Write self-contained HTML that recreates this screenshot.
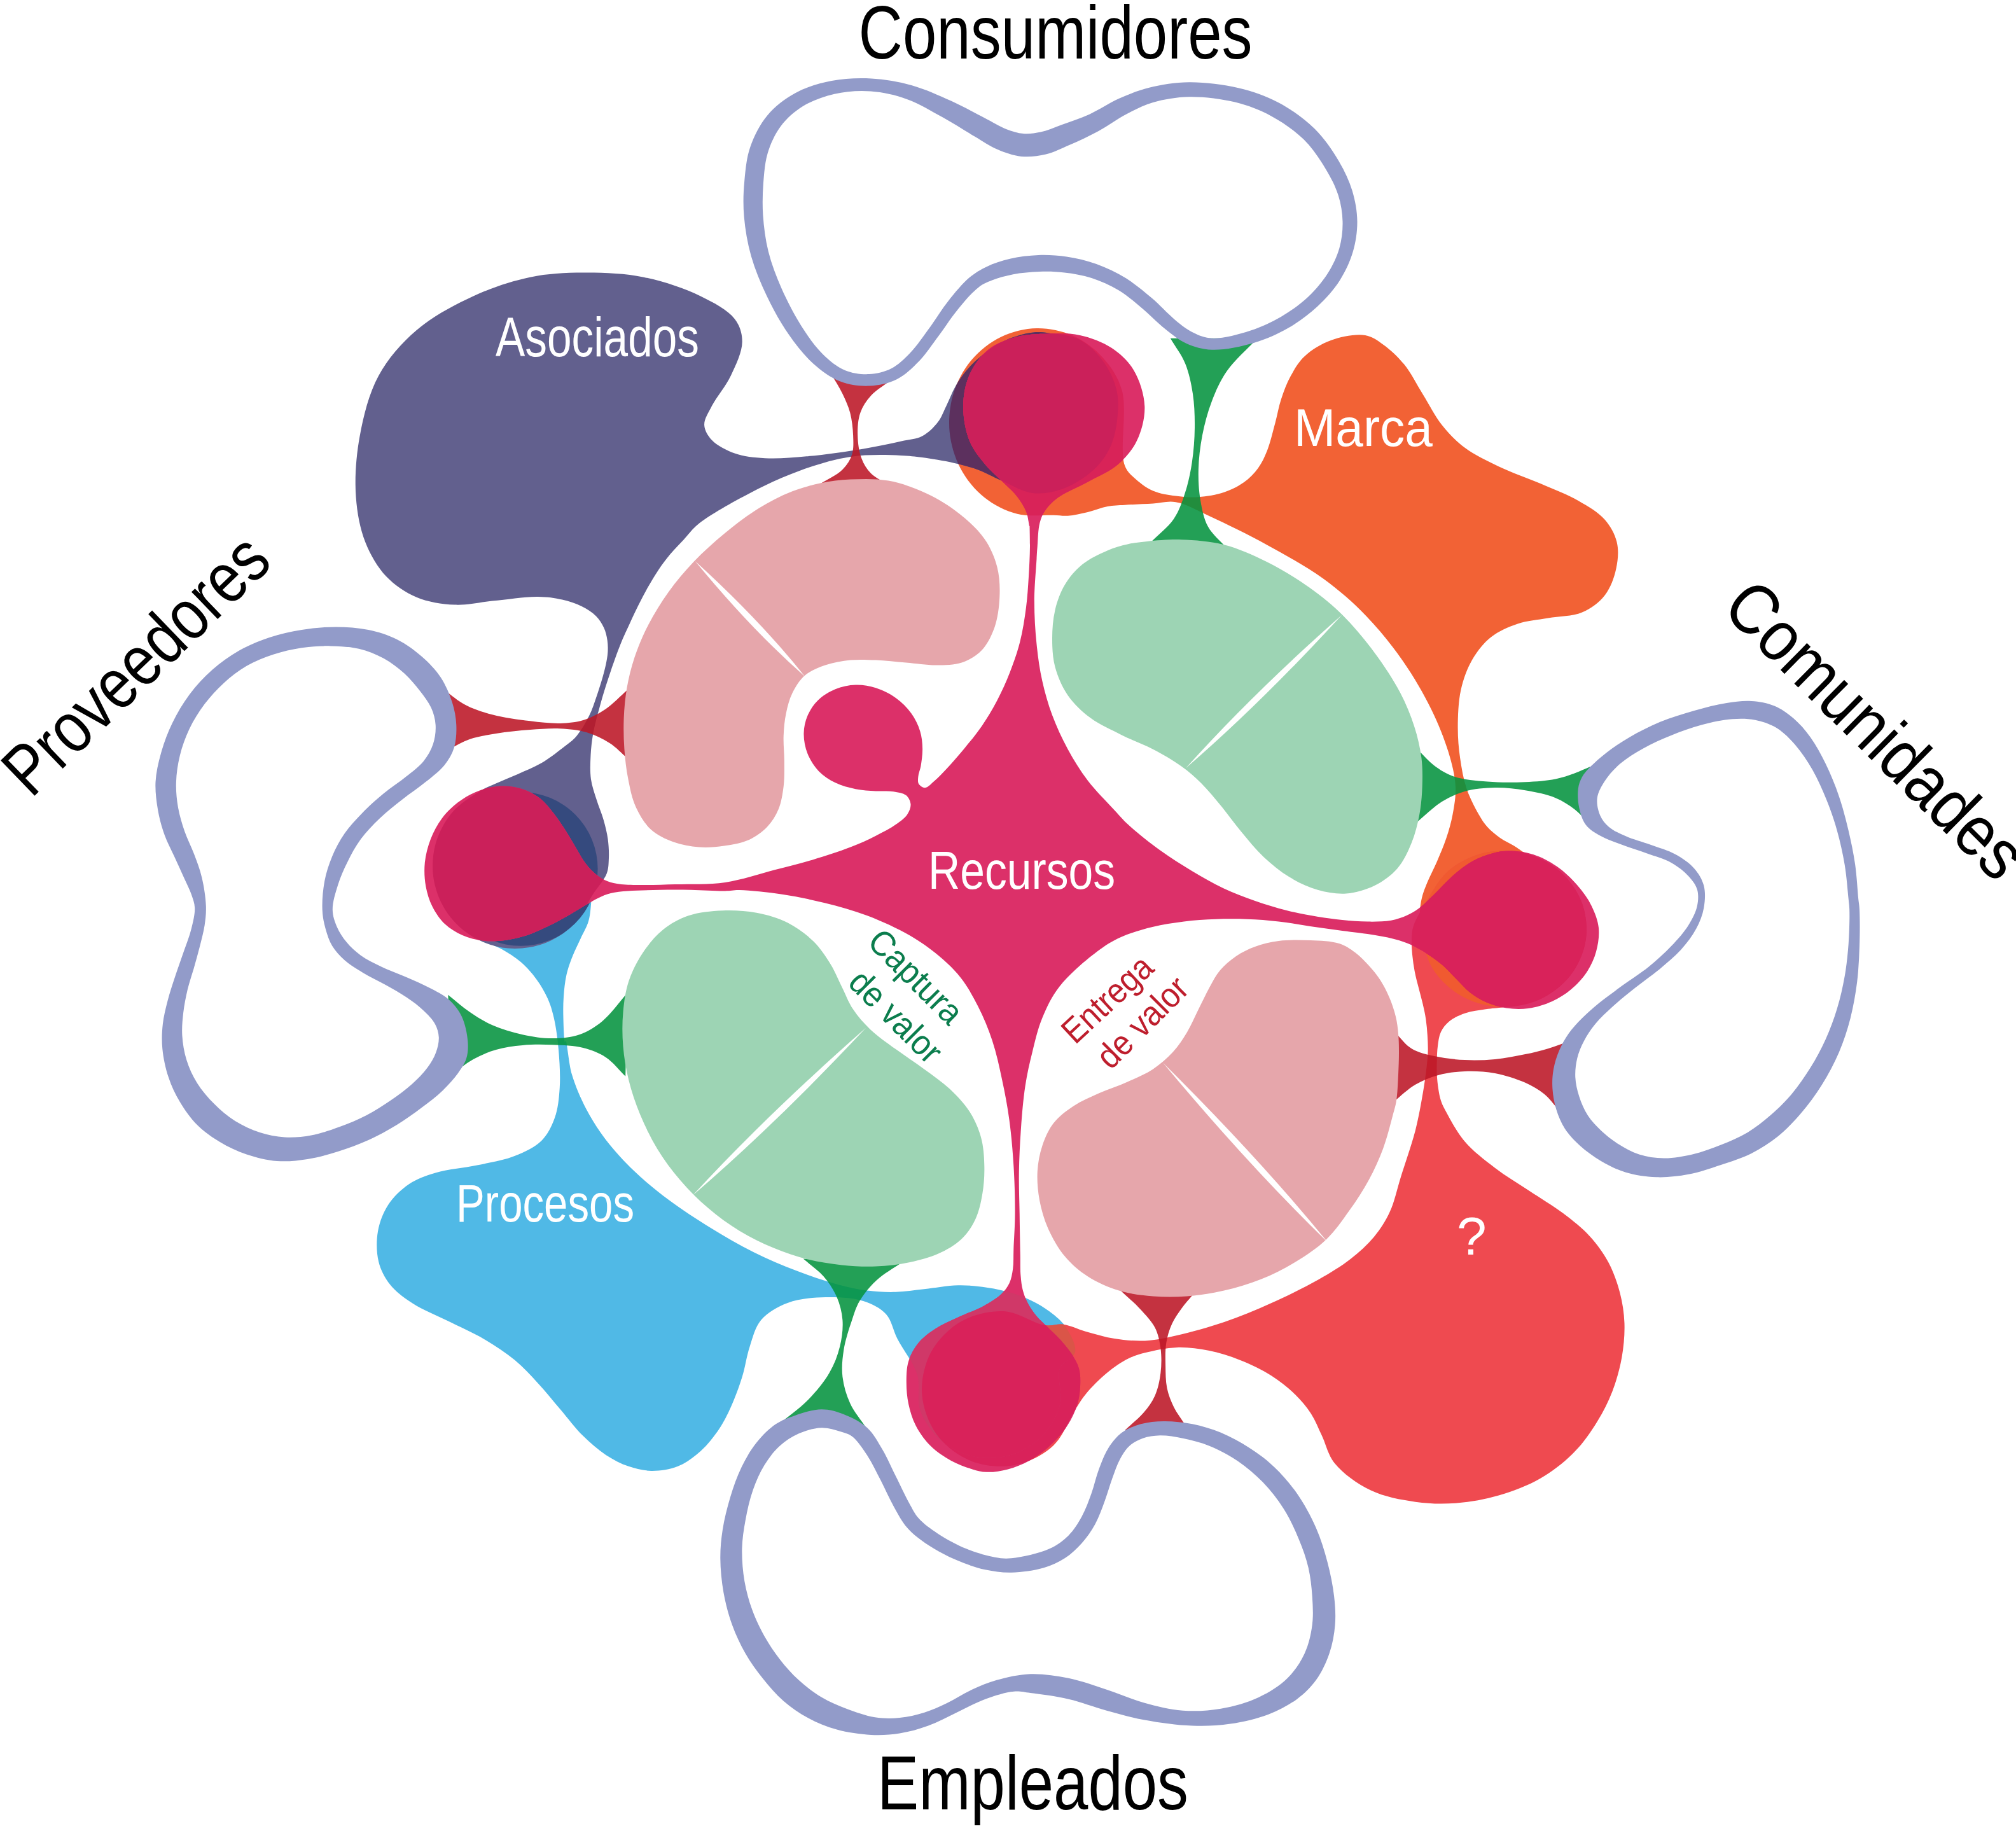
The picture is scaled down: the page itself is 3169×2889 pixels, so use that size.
<!DOCTYPE html><html><head><meta charset="utf-8"><title>Modelo</title><style>html,body{margin:0;padding:0;background:#fff;overflow:hidden}svg{display:block}text{font-family:"Liberation Sans",sans-serif}</style></head><body>
<svg width="3169" height="2889" viewBox="0 0 3169 2889">
<rect width="3169" height="2889" fill="#fff"/>
<defs>
<path id="p_purple" d="M916.7 428.6C947.3 428.4 981.0 429.5 1011.9 435.7C1042.5 441.9 1075.9 453.1 1101.2 465.5C1122.1 475.7 1144.1 487.2 1154.8 501.2C1162.9 511.9 1166.7 523.8 1166.7 536.9C1166.7 553.0 1156.8 573.6 1148.8 590.5C1140.9 607.3 1126.3 623.8 1119.0 638.1C1113.6 648.9 1106.8 658.6 1107.1 667.9C1107.5 676.3 1112.6 684.8 1119.0 691.7C1127.1 700.2 1141.5 707.7 1154.8 712.5C1169.1 717.6 1185.2 719.2 1202.4 720.2C1222.4 721.4 1244.4 719.4 1267.9 717.3C1295.4 714.8 1330.5 709.8 1357.1 705.4C1379.1 701.7 1399.8 697.2 1416.7 693.5C1429.3 690.7 1440.0 690.7 1449.6 685.6C1459.2 680.6 1468.0 671.6 1474.4 663.3C1480.3 655.7 1482.9 647.3 1487.3 638.5C1492.2 628.6 1496.4 616.6 1502.2 606.7C1507.7 597.2 1514.0 588.3 1521.0 580.2C1527.9 572.3 1535.5 565.4 1543.8 558.6C1552.6 551.5 1562.6 544.1 1572.4 538.8C1581.6 533.8 1591.7 530.2 1600.9 527.4C1609.0 524.9 1616.6 523.1 1624.5 522.4C1632.3 521.8 1638.8 522.2 1648.0 523.4C1661.6 525.2 1683.2 526.7 1697.6 534.3C1712.1 541.9 1725.2 555.9 1734.8 569.0C1744.0 581.6 1751.1 597.3 1754.7 611.2C1757.9 623.7 1758.0 635.2 1757.1 648.4C1756.1 663.8 1753.4 683.2 1747.2 698.0C1741.5 711.9 1733.5 724.2 1722.4 735.2C1709.6 747.8 1690.1 760.9 1672.8 767.5C1656.9 773.5 1639.5 776.8 1623.2 774.9C1606.4 772.9 1588.6 761.5 1573.6 755.1C1560.9 749.6 1551.0 743.4 1538.9 738.9C1526.3 734.3 1513.3 731.0 1499.2 727.8C1483.7 724.2 1464.5 721.1 1449.6 719.1C1437.5 717.5 1429.9 716.4 1416.4 715.9C1395.6 715.1 1363.2 714.0 1336.9 717.9C1310.2 721.8 1283.6 730.3 1257.5 739.7C1230.6 749.4 1204.1 761.8 1178.1 775.5C1151.2 789.5 1116.7 808.7 1098.6 823.1C1087.6 831.9 1082.7 839.9 1075.0 848.0C1067.7 855.8 1060.3 863.0 1053.6 871.0C1047.0 878.8 1041.1 886.9 1035.3 895.4C1029.4 904.1 1023.9 913.5 1018.6 922.8C1013.2 932.2 1008.2 942.1 1003.3 951.8C998.5 961.4 993.9 971.5 989.6 980.7C985.7 989.1 982.0 996.9 978.5 1005.0C975.1 1013.1 972.1 1021.1 969.0 1029.3C965.9 1037.7 962.8 1046.7 960.0 1055.0C957.3 1062.9 954.8 1070.6 952.4 1078.0C950.2 1084.9 948.1 1091.5 946.3 1097.9C944.6 1103.7 943.2 1109.1 941.7 1114.7C940.1 1120.4 938.5 1125.8 937.0 1132.0C935.3 1139.1 933.4 1146.7 932.0 1155.0C930.4 1164.7 929.0 1175.9 928.5 1187.0C927.9 1199.0 927.3 1212.5 928.9 1224.4C930.5 1235.6 934.3 1245.9 937.6 1256.6C940.9 1267.4 945.8 1278.3 948.8 1288.9C951.7 1299.0 954.1 1308.7 955.5 1318.7C956.8 1328.6 957.4 1339.0 957.0 1348.4C956.6 1357.0 956.9 1364.6 953.7 1373.0C949.7 1383.5 939.9 1393.6 932.2 1405.5C922.9 1419.7 914.9 1440.0 901.9 1452.9C889.0 1465.9 871.7 1476.9 854.5 1483.2C837.3 1489.4 816.9 1492.1 798.7 1490.5C780.4 1488.9 760.9 1482.7 745.0 1473.6C729.1 1464.4 714.0 1450.6 703.5 1435.6C693.0 1420.6 685.2 1401.6 682.0 1383.6C678.8 1365.5 679.7 1345.0 684.4 1327.4C689.2 1309.7 698.6 1291.5 710.4 1277.4C722.2 1263.4 742.1 1251.1 755.1 1243.2C763.9 1237.7 770.2 1235.7 778.9 1231.8C789.3 1227.1 801.9 1222.2 813.6 1217.0C825.8 1211.5 839.0 1206.5 850.8 1199.6C862.5 1192.8 874.5 1183.3 884.0 1176.0C891.5 1170.3 898.5 1165.2 903.6 1160.0C907.5 1155.9 909.9 1152.3 912.8 1148.0C916.0 1143.4 919.1 1138.1 921.9 1133.0C924.7 1128.0 927.2 1123.0 929.5 1117.7C931.8 1112.3 933.6 1106.7 935.6 1101.0C937.7 1095.1 939.7 1088.9 941.7 1082.7C943.8 1076.2 946.0 1069.3 947.8 1062.8C949.5 1056.6 951.1 1050.8 952.4 1044.6C953.7 1038.2 955.0 1031.3 955.4 1024.8C955.7 1018.6 955.6 1012.7 954.7 1006.5C953.7 1000.0 952.2 992.9 949.3 986.7C946.3 980.2 942.4 973.8 937.0 968.4C931.0 962.4 922.7 957.2 914.3 953.0C905.2 948.4 894.7 945.0 883.8 942.5C871.9 939.8 860.4 938.1 845.7 937.9C825.5 937.6 796.6 942.4 773.8 944.6C753.0 946.7 734.1 951.6 714.3 950.6C694.4 949.6 672.8 946.3 654.8 938.7C637.2 931.3 620.4 919.9 607.1 906.0C593.4 891.4 582.3 872.3 574.4 852.4C565.9 830.9 561.4 806.6 559.5 781.0C557.4 751.6 559.7 717.1 565.5 685.7C571.4 653.6 579.9 618.6 595.2 590.5C610.0 563.3 630.9 539.5 654.8 519.0C680.0 497.4 713.5 479.5 744.0 465.5C773.1 452.1 803.7 441.8 833.3 435.7C861.2 430.0 888.0 428.7 916.7 428.6Z"/>
<clipPath id="c_purple"><use href="#p_purple"/></clipPath>
<path id="p_orange" d="M2146.0 527.0C2157.3 528.9 2165.0 535.0 2174.4 541.7C2185.4 549.5 2197.1 560.5 2207.1 572.6C2218.2 586.2 2226.9 604.4 2236.9 620.2C2246.8 636.1 2255.3 653.7 2266.6 667.9C2277.3 681.3 2288.4 693.0 2302.3 703.6C2317.7 715.2 2336.9 724.2 2355.9 733.3C2376.4 743.2 2400.2 751.0 2421.4 760.1C2441.8 768.9 2463.3 776.8 2480.9 786.9C2496.5 795.9 2512.3 804.9 2522.6 816.7C2531.7 827.1 2538.6 839.6 2541.6 852.4C2544.7 865.4 2543.4 880.4 2540.4 894.0C2537.3 908.2 2531.6 924.3 2522.6 935.7C2513.7 947.1 2500.8 956.5 2486.9 962.5C2471.5 969.1 2450.6 968.4 2433.3 971.4C2416.9 974.3 2400.7 975.3 2385.7 980.4C2370.9 985.3 2355.9 991.8 2344.0 1001.2C2332.1 1010.6 2322.1 1023.4 2314.2 1036.9C2306.0 1051.0 2300.2 1067.5 2296.4 1084.5C2292.3 1103.0 2291.7 1125.3 2291.6 1144.0C2291.6 1160.8 2292.9 1175.9 2295.2 1191.7C2297.5 1207.6 2300.3 1224.3 2305.3 1239.3C2310.1 1253.7 2318.1 1269.1 2324.4 1280.0C2329.0 1288.0 2332.6 1293.8 2338.0 1299.8C2343.7 1306.1 2350.9 1312.0 2358.0 1317.0C2364.9 1321.9 2373.1 1325.4 2380.0 1329.6C2386.3 1333.4 2390.0 1336.7 2397.6 1341.2C2410.8 1348.9 2437.9 1356.9 2452.8 1370.2C2467.6 1383.4 2480.5 1402.0 2487.1 1420.4C2493.6 1438.6 2495.6 1460.9 2492.3 1479.9C2489.0 1499.1 2479.5 1519.5 2467.2 1534.8C2454.8 1550.3 2436.3 1564.0 2417.8 1572.0C2399.1 1580.0 2376.1 1584.0 2355.7 1582.7C2335.3 1581.5 2313.0 1574.8 2295.5 1564.6C2278.3 1554.4 2261.8 1538.5 2251.5 1521.7C2241.4 1505.1 2237.1 1480.4 2234.1 1464.3C2232.0 1453.0 2231.7 1444.2 2232.0 1435.0C2232.2 1426.7 2233.1 1419.3 2235.0 1411.5C2237.0 1403.2 2240.2 1395.3 2243.8 1386.6C2247.9 1376.5 2253.9 1365.6 2258.7 1354.4C2263.8 1342.5 2269.4 1329.6 2273.6 1317.0C2277.7 1304.8 2281.1 1293.0 2283.5 1280.0C2286.1 1266.0 2288.8 1251.1 2287.9 1235.7C2287.0 1218.6 2282.4 1200.7 2276.8 1182.1C2270.3 1160.8 2261.1 1137.8 2250.0 1115.2C2237.8 1090.2 2222.2 1063.6 2205.4 1039.3C2188.1 1014.4 2168.4 989.6 2147.3 967.9C2126.7 946.5 2105.1 927.8 2080.4 909.8C2053.5 890.3 2021.2 872.8 1991.1 856.2C1961.6 840.1 1927.9 823.6 1901.8 811.6C1881.8 802.5 1864.6 792.0 1848.2 789.3C1835.4 787.1 1825.1 790.8 1812.5 791.5C1798.5 792.3 1780.8 792.9 1767.9 793.8C1757.8 794.4 1750.3 794.3 1741.1 796.0C1731.0 797.8 1720.3 802.4 1709.8 804.9C1699.5 807.3 1688.1 810.0 1678.6 810.7C1670.6 811.3 1665.5 810.1 1656.3 809.8C1641.6 809.2 1617.1 812.5 1599.0 807.8C1580.8 803.2 1562.0 793.7 1547.2 781.8C1532.2 769.8 1518.7 753.1 1509.7 736.0C1500.5 718.6 1494.4 697.7 1492.6 678.1C1490.8 658.4 1493.1 636.7 1499.0 617.8C1504.8 599.1 1515.1 580.1 1527.7 565.3C1540.1 550.7 1556.7 537.6 1573.8 529.4C1590.8 521.2 1611.1 516.3 1629.8 516.0C1648.5 515.7 1668.9 519.9 1686.1 527.5C1703.4 535.1 1720.5 547.7 1733.3 561.9C1746.3 576.2 1757.2 591.7 1763.6 613.4C1772.4 643.8 1759.3 708.2 1767.9 731.2C1772.1 742.6 1778.6 747.0 1785.7 753.6C1793.3 760.5 1802.5 767.1 1812.5 771.4C1823.2 776.0 1836.2 777.8 1848.2 779.5C1860.1 781.1 1871.7 782.1 1883.9 781.2C1897.0 780.4 1911.8 777.8 1924.1 773.7C1935.5 769.8 1946.3 764.6 1955.4 758.0C1964.0 751.8 1971.6 744.1 1977.7 735.7C1983.8 727.4 1987.8 718.5 1992.0 708.0C1997.0 695.4 2000.8 678.5 2004.6 664.6C2008.0 651.8 2009.8 639.9 2013.8 627.7C2017.9 615.2 2022.7 602.2 2029.0 590.8C2035.1 579.7 2041.2 568.9 2050.8 560.0C2061.6 549.9 2076.7 540.5 2092.0 535.0C2108.3 529.1 2131.2 524.5 2146.0 527.0Z"/>
<clipPath id="c_orange"><use href="#p_orange"/></clipPath>
<path id="p_blue" d="M759.0 1477.4C751.8 1471.7 748.6 1465.3 742.1 1457.0C732.6 1444.8 715.4 1427.9 708.4 1410.8C701.4 1393.7 698.4 1372.7 700.2 1354.3C701.9 1335.9 709.0 1315.9 719.2 1300.4C729.3 1285.0 744.9 1270.5 761.1 1261.6C777.3 1252.7 797.8 1247.2 816.3 1246.8C834.8 1246.5 855.5 1251.2 872.0 1259.5C888.5 1267.8 904.7 1281.6 915.4 1296.6C926.2 1311.6 934.0 1331.4 936.5 1349.7C939.0 1368.0 932.5 1389.1 930.4 1406.5C928.7 1421.3 928.6 1435.5 925.2 1447.6C922.3 1457.9 916.9 1465.8 912.8 1474.9C908.7 1484.0 904.1 1492.6 900.4 1502.0C896.6 1511.6 892.9 1521.5 890.5 1532.0C888.0 1543.0 886.8 1555.2 886.0 1566.7C885.2 1577.9 885.2 1588.5 885.5 1600.0C885.8 1612.3 886.7 1637.8 888.1 1638.1C888.5 1638.2 888.8 1635.6 889.3 1635.7C891.3 1636.0 893.9 1671.7 899.1 1689.3C904.5 1707.4 912.5 1725.8 921.4 1742.9C930.4 1760.0 940.6 1776.1 952.7 1792.0C965.6 1808.9 981.2 1825.6 997.3 1841.1C1013.9 1856.9 1031.6 1871.3 1050.9 1885.7C1071.6 1901.2 1095.3 1916.5 1117.9 1930.4C1139.9 1943.9 1162.2 1957.0 1184.8 1968.3C1206.9 1979.3 1229.3 1988.7 1251.8 1997.3C1273.9 2005.8 1298.5 2014.3 1318.8 2019.6C1335.0 2024.0 1348.4 2026.7 1363.4 2028.6C1378.2 2030.4 1393.2 2031.2 1408.0 2030.8C1422.9 2030.4 1437.1 2028.0 1452.7 2026.3C1469.7 2024.5 1489.2 2020.6 1506.2 2020.3C1521.8 2020.0 1536.1 2021.5 1550.9 2023.7C1565.9 2025.9 1581.9 2029.3 1595.5 2033.7C1607.7 2037.7 1618.7 2042.6 1629.0 2048.2C1638.7 2053.5 1647.8 2059.4 1655.8 2066.1C1663.4 2072.4 1670.5 2078.3 1676.0 2087.0C1682.4 2097.3 1692.2 2114.1 1690.0 2125.0C1688.0 2135.2 1670.5 2139.6 1666.1 2151.0C1660.5 2165.5 1671.0 2190.0 1666.4 2207.6C1661.8 2225.4 1651.2 2244.0 1638.3 2257.2C1625.4 2270.5 1606.8 2281.6 1588.9 2287.0C1571.0 2292.4 1549.2 2293.4 1530.8 2289.5C1512.5 2285.6 1493.0 2276.1 1478.9 2264.0C1464.9 2251.9 1452.6 2234.3 1446.5 2217.0C1440.3 2199.8 1447.3 2178.8 1441.7 2160.6C1435.9 2141.2 1419.4 2121.6 1410.7 2104.5C1403.6 2090.6 1401.9 2075.8 1392.9 2065.8C1384.0 2056.0 1371.1 2049.5 1357.1 2045.0C1340.3 2039.5 1317.4 2038.6 1297.6 2039.0C1277.7 2039.5 1255.6 2041.4 1238.1 2048.0C1222.3 2053.9 1206.4 2063.0 1196.4 2074.8C1186.9 2086.0 1183.5 2101.9 1178.6 2116.4C1173.5 2131.6 1171.6 2148.3 1166.7 2164.0C1161.7 2180.1 1155.3 2197.4 1148.8 2211.7C1143.2 2224.0 1138.3 2234.2 1131.0 2245.2C1122.8 2257.4 1112.4 2270.9 1101.2 2281.0C1090.4 2290.6 1078.4 2299.6 1065.5 2304.8C1052.6 2309.9 1037.1 2312.1 1023.8 2311.9C1011.4 2311.7 999.7 2308.8 988.1 2304.8C975.9 2300.6 963.9 2294.4 952.4 2286.9C940.0 2278.8 928.1 2268.4 916.7 2257.1C904.2 2244.9 892.9 2229.4 881.0 2215.5C869.0 2201.6 857.4 2186.9 845.2 2173.8C833.6 2161.2 822.8 2149.2 809.5 2138.1C795.3 2126.2 779.0 2115.5 761.9 2105.4C743.5 2094.5 721.7 2085.3 702.4 2075.6C684.1 2066.4 664.4 2059.0 648.8 2048.8C635.1 2039.9 622.2 2030.5 613.1 2019.0C604.7 2008.4 598.5 1996.5 595.2 1983.3C591.7 1969.0 591.4 1950.8 594.0 1935.7C596.6 1921.1 602.1 1906.4 610.1 1894.0C618.3 1881.5 630.4 1869.8 642.9 1861.3C655.2 1852.9 668.8 1848.2 684.5 1843.5C703.6 1837.7 728.8 1836.1 750.0 1831.5C770.4 1827.2 791.9 1823.8 809.5 1816.7C825.1 1810.4 840.6 1803.3 851.2 1792.9C861.0 1783.1 867.3 1770.4 872.0 1757.1C877.2 1742.8 878.7 1726.3 879.8 1709.5C881.0 1690.8 879.6 1668.9 878.0 1650.0C876.5 1632.6 874.1 1614.6 870.7 1600.0C868.0 1588.3 865.2 1579.0 860.7 1569.0C856.1 1558.8 850.2 1548.7 843.4 1539.4C836.3 1529.7 827.8 1519.9 818.6 1512.0C809.6 1504.2 798.9 1497.8 788.8 1492.0C779.1 1486.4 767.0 1483.7 759.0 1477.4Z"/>
<clipPath id="c_blue"><use href="#p_blue"/></clipPath>
<path id="p_red" d="M2219.0 1478.4C2219.3 1470.5 2219.3 1463.4 2222.0 1455.0C2225.6 1443.8 2233.8 1430.9 2241.8 1417.9C2251.4 1402.4 2261.8 1381.7 2276.6 1368.9C2291.6 1355.9 2312.1 1345.7 2331.6 1340.9C2351.2 1336.1 2374.3 1335.9 2394.0 1340.3C2413.6 1344.7 2434.2 1354.6 2449.5 1367.3C2464.6 1379.9 2478.0 1397.8 2485.3 1415.7C2492.5 1433.5 2495.4 1455.3 2493.1 1474.3C2490.8 1493.3 2482.5 1513.9 2471.2 1529.6C2459.8 1545.5 2442.3 1559.9 2424.6 1568.8C2406.6 1577.8 2380.5 1580.1 2364.0 1583.0C2352.8 1584.9 2345.3 1584.8 2335.6 1586.3C2325.2 1587.9 2313.2 1589.2 2303.4 1592.5C2294.4 1595.6 2285.2 1599.6 2278.6 1605.0C2272.8 1609.7 2268.1 1615.5 2265.0 1622.0C2261.8 1628.7 2261.0 1637.0 2260.0 1644.6C2259.0 1652.0 2258.9 1659.6 2258.7 1667.0C2258.5 1674.4 2258.3 1681.6 2258.7 1689.0C2259.1 1696.5 2259.9 1704.4 2261.0 1711.5C2262.0 1718.0 2263.0 1724.1 2265.0 1730.0C2266.9 1735.7 2268.9 1739.7 2272.6 1746.4C2279.0 1758.3 2290.0 1779.5 2302.3 1794.0C2315.5 1809.5 2333.2 1822.9 2350.0 1835.7C2366.9 1848.7 2385.7 1859.5 2403.5 1871.4C2421.4 1883.3 2440.7 1894.7 2457.1 1907.1C2472.2 1918.6 2486.7 1929.7 2498.8 1942.9C2510.4 1955.6 2520.6 1969.6 2528.5 1984.5C2536.4 1999.4 2542.2 2016.0 2546.4 2032.1C2550.4 2047.8 2552.9 2063.4 2553.5 2079.8C2554.1 2097.1 2552.5 2115.6 2549.4 2133.3C2546.2 2151.3 2541.0 2169.9 2534.5 2186.9C2528.1 2203.6 2520.2 2219.1 2510.7 2234.5C2500.6 2250.9 2489.2 2267.7 2475.0 2282.1C2459.8 2297.6 2441.0 2312.5 2421.4 2323.8C2401.4 2335.4 2378.1 2344.1 2355.9 2350.6C2334.4 2356.9 2312.3 2360.8 2290.4 2362.5C2268.7 2364.2 2247.0 2363.8 2225.0 2360.7C2201.8 2357.5 2176.0 2352.8 2154.8 2342.6C2133.7 2332.5 2111.0 2316.1 2098.0 2300.0C2087.3 2286.8 2084.5 2270.3 2078.0 2256.7C2072.1 2244.5 2067.8 2232.8 2060.8 2222.0C2053.8 2211.2 2045.7 2201.5 2036.0 2192.0C2025.3 2181.5 2012.6 2171.3 1998.8 2162.5C1983.9 2153.0 1965.9 2144.4 1949.0 2137.7C1932.8 2131.3 1916.2 2126.1 1899.6 2122.8C1883.2 2119.6 1866.5 2117.3 1850.0 2117.9C1833.3 2118.5 1813.8 2122.8 1800.0 2126.3C1789.8 2128.9 1782.9 2130.9 1774.0 2135.3C1763.2 2140.6 1751.3 2148.8 1740.6 2157.6C1728.9 2167.1 1715.8 2180.4 1707.0 2191.0C1700.2 2199.2 1697.1 2204.9 1690.8 2214.6C1681.1 2229.5 1671.6 2257.8 1655.5 2272.5C1639.5 2287.3 1616.0 2299.0 1594.5 2302.9C1573.0 2306.9 1546.9 2304.4 1526.6 2296.4C1506.3 2288.4 1485.5 2272.4 1472.6 2254.9C1459.8 2237.4 1450.8 2212.9 1449.3 2191.3C1447.8 2169.6 1453.4 2144.2 1463.7 2125.1C1474.1 2106.0 1492.5 2087.4 1511.5 2076.8C1530.6 2066.1 1556.1 2060.1 1578.0 2061.1C1599.8 2062.2 1625.1 2080.6 1642.5 2083.1C1653.9 2084.7 1661.4 2080.4 1671.4 2081.7C1682.8 2083.2 1694.4 2089.4 1707.0 2092.9C1721.0 2096.8 1736.5 2101.6 1751.8 2104.0C1767.5 2106.5 1783.8 2108.2 1800.0 2107.4C1816.6 2106.6 1831.8 2103.1 1850.0 2099.0C1872.5 2094.0 1899.8 2086.4 1924.4 2078.0C1949.4 2069.4 1974.2 2059.1 1998.8 2048.0C2023.8 2036.8 2051.0 2023.5 2073.0 2011.0C2091.6 2000.4 2107.9 1990.6 2122.8 1979.0C2136.7 1968.2 2149.5 1956.7 2160.0 1944.0C2170.0 1931.8 2178.0 1919.3 2184.8 1904.6C2192.3 1888.3 2195.9 1869.6 2202.0 1850.0C2209.1 1827.3 2219.0 1799.6 2225.0 1776.2C2230.2 1755.4 2233.8 1734.6 2236.9 1716.7C2239.4 1702.1 2241.3 1688.5 2242.6 1676.8C2243.6 1667.6 2244.4 1660.3 2244.6 1652.0C2244.8 1643.7 2244.3 1635.3 2243.8 1627.0C2243.3 1618.8 2242.6 1610.6 2241.4 1602.4C2240.2 1594.1 2238.3 1585.8 2236.4 1577.6C2234.5 1569.3 2232.1 1561.1 2230.0 1552.8C2227.9 1544.5 2225.6 1536.3 2224.0 1528.0C2222.4 1519.7 2221.1 1511.3 2220.3 1503.0C2219.5 1494.8 2218.7 1486.5 2219.0 1478.4Z"/>
<clipPath id="c_red"><use href="#p_red"/></clipPath>
<path id="p_magenta" d="M1618.3 827.0C1617.6 827.1 1616.2 812.1 1613.3 804.7C1610.0 796.3 1604.6 787.8 1598.4 779.9C1591.6 771.2 1581.9 763.3 1573.6 755.1C1565.3 746.8 1556.6 739.8 1548.8 730.3C1540.0 719.5 1529.8 707.3 1524.0 693.1C1517.6 677.2 1513.9 656.2 1514.1 638.5C1514.2 621.5 1517.3 603.8 1524.0 588.9C1530.6 574.1 1541.3 559.1 1553.8 549.2C1566.1 539.3 1582.8 533.5 1598.4 529.4C1614.2 525.2 1631.5 524.8 1648.0 524.4C1664.5 524.0 1681.4 523.3 1697.6 526.9C1714.5 530.6 1733.0 537.3 1747.2 546.7C1760.9 555.7 1773.4 567.2 1781.9 581.4C1791.4 597.2 1798.6 619.6 1799.3 638.5C1800.0 656.8 1794.5 677.3 1786.9 693.1C1779.9 707.6 1769.4 719.7 1757.1 730.3C1744.1 741.5 1725.8 748.8 1710.0 757.5C1694.4 766.2 1674.8 773.6 1662.9 782.3C1654.3 788.7 1647.9 795.1 1643.1 802.2C1638.8 808.4 1636.4 814.2 1634.4 822.0C1631.7 832.3 1631.5 848.8 1630.7 859.2C1630.1 866.7 1629.9 870.2 1629.5 878.6C1628.6 894.2 1625.9 923.2 1625.9 945.5C1625.9 967.9 1627.2 991.0 1629.5 1012.5C1631.5 1032.6 1634.2 1051.7 1638.4 1070.5C1642.5 1088.9 1647.5 1106.5 1654.0 1124.1C1660.8 1142.2 1669.2 1160.5 1678.6 1177.7C1687.9 1194.7 1698.0 1211.3 1709.8 1226.8C1721.8 1242.5 1738.2 1258.7 1750.0 1271.4C1759.1 1281.2 1764.5 1287.9 1774.4 1297.0C1787.7 1309.2 1807.2 1324.6 1824.0 1336.8C1840.2 1348.5 1856.9 1359.0 1873.6 1369.0C1890.0 1378.8 1906.4 1388.4 1923.2 1396.3C1939.5 1404.0 1956.1 1410.2 1972.8 1416.0C1989.2 1421.7 2005.8 1426.8 2022.4 1431.0C2038.8 1435.1 2056.5 1438.4 2072.0 1441.0C2085.5 1443.2 2097.2 1444.7 2110.0 1446.0C2123.0 1447.3 2136.6 1448.5 2149.6 1448.6C2162.2 1448.7 2175.8 1448.7 2186.8 1446.7C2196.0 1445.0 2204.2 1442.0 2211.6 1438.7C2218.1 1435.8 2222.9 1433.2 2229.0 1428.8C2236.8 1423.2 2245.3 1414.6 2253.8 1406.5C2263.4 1397.4 2273.3 1385.6 2283.5 1376.7C2293.1 1368.3 2302.6 1360.4 2313.3 1354.4C2324.1 1348.4 2337.2 1343.6 2348.0 1340.8C2356.8 1338.5 2363.7 1337.4 2372.8 1337.5C2384.0 1337.6 2397.9 1339.2 2410.0 1343.0C2422.7 1347.0 2435.7 1353.9 2447.2 1361.8C2459.0 1370.0 2470.2 1380.9 2479.5 1391.6C2488.3 1401.7 2496.2 1412.5 2501.8 1423.9C2507.2 1434.9 2511.8 1446.7 2513.0 1458.6C2514.2 1470.7 2512.2 1484.1 2509.0 1495.8C2505.9 1507.2 2500.8 1518.2 2494.3 1528.0C2487.7 1538.0 2478.7 1547.6 2469.5 1555.3C2460.5 1562.8 2450.6 1569.0 2439.8 1573.9C2428.4 1579.0 2414.9 1583.3 2402.6 1585.0C2391.0 1586.6 2379.1 1586.3 2367.9 1584.6C2356.8 1582.9 2345.4 1579.3 2335.6 1575.0C2326.5 1571.0 2318.5 1566.0 2310.8 1560.0C2302.8 1553.8 2295.7 1545.2 2288.5 1538.0C2281.7 1531.2 2275.5 1524.0 2268.7 1518.0C2262.3 1512.4 2255.9 1507.8 2248.8 1503.0C2241.1 1497.8 2232.5 1492.2 2224.0 1488.0C2215.8 1483.9 2208.3 1480.8 2199.0 1478.0C2188.0 1474.6 2175.4 1472.4 2162.0 1470.0C2146.2 1467.2 2127.2 1465.4 2110.0 1463.0C2093.1 1460.7 2076.3 1458.3 2059.6 1455.9C2043.0 1453.5 2026.6 1450.3 2010.0 1448.4C1993.5 1446.5 1976.9 1445.3 1960.4 1444.7C1943.9 1444.1 1927.3 1444.1 1910.8 1444.7C1894.2 1445.3 1877.5 1446.4 1861.0 1448.4C1844.4 1450.5 1827.9 1453.0 1811.6 1457.0C1794.9 1461.1 1777.0 1466.2 1762.0 1473.0C1748.3 1479.2 1738.1 1485.5 1724.8 1495.5C1706.6 1509.2 1680.1 1531.7 1665.2 1550.9C1652.8 1566.8 1645.5 1582.9 1638.4 1600.0C1631.3 1617.1 1627.2 1635.6 1622.8 1653.6C1618.3 1671.3 1614.5 1688.2 1611.6 1707.1C1608.4 1728.1 1606.5 1751.8 1604.9 1774.1C1603.3 1796.4 1602.2 1818.7 1601.8 1841.1C1601.4 1863.4 1602.3 1885.9 1602.7 1908.0C1603.0 1929.7 1603.5 1954.4 1603.8 1972.3C1604.0 1985.3 1603.6 1995.8 1604.5 2005.8C1605.2 2014.0 1605.9 2021.0 1607.8 2028.1C1609.7 2035.1 1612.2 2041.7 1615.6 2048.2C1619.2 2055.1 1623.9 2062.0 1629.0 2068.3C1634.3 2074.7 1640.7 2080.0 1646.9 2086.2C1653.4 2092.7 1660.6 2099.2 1667.0 2106.2C1673.3 2113.3 1679.9 2120.9 1684.8 2128.6C1689.4 2135.8 1693.8 2143.2 1696.0 2150.9C1698.1 2158.1 1698.3 2165.0 1698.2 2173.2C1698.0 2183.3 1696.9 2195.8 1693.8 2206.7C1690.4 2218.1 1684.9 2229.6 1678.1 2240.2C1671.0 2251.3 1661.4 2262.1 1651.3 2271.4C1641.3 2280.8 1629.4 2289.6 1617.9 2296.0C1607.1 2302.0 1595.7 2306.4 1584.4 2309.4C1573.4 2312.3 1560.9 2314.2 1550.9 2313.8C1542.7 2313.6 1536.6 2311.8 1528.6 2309.4C1518.4 2306.4 1505.9 2302.0 1495.1 2296.0C1483.5 2289.6 1471.0 2281.0 1461.6 2271.4C1452.6 2262.3 1444.9 2251.2 1439.3 2240.2C1433.9 2229.6 1430.5 2218.0 1428.1 2206.7C1425.8 2195.7 1424.8 2184.4 1424.8 2173.2C1424.8 2162.1 1424.9 2150.2 1428.1 2139.7C1431.3 2129.4 1436.8 2119.2 1443.8 2110.7C1450.9 2102.0 1460.5 2094.9 1470.5 2088.4C1481.2 2081.4 1493.9 2076.4 1506.2 2070.5C1519.2 2064.4 1534.6 2059.2 1546.4 2052.7C1556.5 2047.1 1566.2 2041.4 1573.2 2034.8C1579.0 2029.3 1583.4 2023.6 1586.6 2017.0C1589.8 2010.2 1591.0 2002.8 1592.2 1994.6C1593.5 1985.2 1592.9 1975.3 1593.3 1963.4C1593.9 1947.6 1595.4 1927.9 1595.5 1908.0C1595.7 1884.7 1594.8 1857.0 1593.3 1832.1C1591.8 1807.9 1589.7 1783.7 1586.6 1760.7C1583.7 1739.1 1579.9 1719.0 1575.4 1698.2C1571.0 1677.3 1566.4 1655.5 1559.8 1635.7C1553.6 1616.9 1546.0 1598.9 1537.5 1582.1C1529.5 1566.3 1521.2 1551.0 1510.7 1537.5C1500.4 1524.2 1488.1 1512.8 1475.0 1501.8C1461.4 1490.4 1447.2 1480.3 1430.4 1470.5C1410.7 1459.2 1386.0 1447.9 1363.4 1439.3C1341.4 1430.9 1318.9 1424.8 1296.4 1419.2C1274.2 1413.7 1251.9 1409.2 1229.5 1405.8C1207.2 1402.5 1178.9 1399.4 1162.5 1399.1C1153.0 1398.9 1149.1 1400.4 1140.0 1400.5C1126.0 1400.7 1103.9 1399.1 1086.4 1398.8C1069.5 1398.5 1053.3 1398.5 1036.8 1398.8C1020.2 1399.1 1001.1 1399.4 987.0 1400.5C976.6 1401.3 968.2 1401.9 960.0 1404.0C952.7 1405.8 946.5 1408.6 940.0 1411.7C933.3 1414.9 927.2 1418.8 920.3 1422.8C912.5 1427.4 904.4 1432.7 895.5 1437.7C885.5 1443.4 874.3 1449.7 863.2 1455.0C852.0 1460.4 840.2 1466.2 828.5 1470.0C817.1 1473.7 805.4 1476.5 793.8 1477.9C782.3 1479.3 770.3 1480.0 759.0 1478.6C748.0 1477.3 736.8 1474.4 726.8 1470.0C717.0 1465.7 707.3 1460.0 699.5 1452.6C691.5 1445.0 684.7 1435.0 679.7 1425.0C674.7 1415.1 671.3 1404.2 669.3 1393.0C667.2 1381.2 666.6 1368.2 667.8 1355.9C669.1 1343.4 672.5 1330.4 677.0 1318.7C681.5 1307.2 687.4 1296.0 694.6 1286.4C701.6 1277.0 710.5 1268.5 719.4 1261.6C727.9 1255.0 737.3 1249.6 746.6 1245.5C755.5 1241.6 764.7 1238.6 773.9 1237.0C782.8 1235.5 792.0 1235.0 801.0 1236.0C810.2 1237.0 820.1 1239.4 828.5 1243.0C836.6 1246.4 844.0 1250.9 850.8 1256.6C858.1 1262.7 864.5 1271.2 870.7 1279.0C876.9 1286.9 882.6 1295.4 888.0 1303.8C893.3 1312.0 897.9 1320.3 902.9 1328.6C907.9 1336.9 912.5 1346.1 917.8 1353.4C922.5 1359.9 927.2 1365.7 932.7 1370.7C938.0 1375.5 943.8 1379.9 950.0 1383.0C956.2 1386.0 962.5 1387.7 969.9 1389.0C978.7 1390.6 987.9 1390.7 999.6 1391.0C1016.5 1391.4 1039.7 1390.6 1061.6 1390.0C1086.2 1389.3 1114.1 1390.6 1140.0 1386.9C1166.2 1383.1 1193.6 1373.6 1217.8 1367.3C1239.0 1361.8 1257.6 1357.4 1277.4 1351.4C1297.3 1345.5 1319.2 1338.5 1336.9 1331.6C1351.7 1325.8 1364.3 1320.0 1376.7 1313.7C1388.0 1308.0 1399.6 1302.1 1408.4 1295.8C1415.6 1290.7 1422.5 1285.8 1426.3 1279.9C1429.5 1275.0 1431.9 1269.1 1431.5 1264.1C1431.1 1259.2 1428.3 1253.4 1424.3 1250.1C1419.8 1246.4 1411.7 1245.4 1404.5 1244.2C1396.1 1242.8 1386.2 1244.0 1376.7 1243.4C1366.4 1242.7 1355.4 1242.4 1344.9 1240.2C1334.2 1238.0 1322.8 1235.0 1313.1 1230.3C1303.7 1225.7 1294.5 1219.9 1287.3 1212.4C1279.9 1204.7 1273.4 1194.6 1269.4 1184.6C1265.5 1174.7 1263.3 1163.1 1263.5 1152.8C1263.6 1143.2 1265.8 1133.6 1269.4 1125.0C1273.1 1116.4 1278.4 1108.0 1285.3 1101.2C1292.7 1093.9 1303.1 1087.4 1313.1 1083.3C1323.0 1079.2 1334.3 1076.9 1344.9 1076.6C1355.4 1076.2 1366.3 1078.1 1376.7 1081.3C1387.5 1084.8 1399.1 1090.5 1408.4 1097.2C1417.6 1103.8 1425.9 1112.2 1432.3 1121.1C1438.4 1129.5 1443.2 1139.3 1446.2 1148.9C1449.0 1157.9 1450.0 1167.4 1450.1 1176.7C1450.3 1185.9 1448.7 1196.5 1447.4 1204.5C1446.3 1210.5 1443.8 1215.4 1443.4 1220.4C1443.0 1224.6 1442.4 1229.3 1444.2 1232.3C1446.0 1235.2 1450.6 1238.4 1454.1 1238.2C1458.4 1238.1 1463.2 1232.4 1468.0 1228.3C1474.3 1223.0 1480.8 1216.0 1487.9 1208.4C1496.5 1199.2 1506.6 1187.7 1515.7 1176.7C1525.1 1165.2 1534.9 1153.4 1543.5 1140.9C1552.2 1128.3 1560.1 1115.0 1567.3 1101.2C1574.7 1087.2 1581.3 1072.5 1587.2 1057.5C1593.2 1042.1 1598.8 1026.5 1603.1 1009.8C1607.6 992.2 1610.7 972.1 1613.0 954.2C1615.2 937.8 1616.0 922.5 1617.0 906.6C1618.0 890.7 1618.8 874.4 1619.0 858.9C1619.1 844.0 1618.2 815.2 1618.2 815.2C1618.1 815.2 1618.7 826.9 1618.3 827.0Z"/>
<clipPath id="c_magenta"><use href="#p_magenta"/></clipPath>
</defs>
<use href="#p_orange" fill="#f26235"/>
<use href="#p_blue" fill="#50b9e6"/>
<use href="#p_red" fill="#ef4a50"/>
<use href="#p_purple" fill="#62608e"/>
<use href="#p_purple" fill="#5c305e" clip-path="url(#c_orange)"/>
<circle cx="818.6" cy="1365.8" r="121" fill="#354a7e"/>
<use href="#p_red" fill="#f05a30" clip-path="url(#c_orange)"/>
<use href="#p_red" fill="#da5548" clip-path="url(#c_blue)"/>
<use href="#p_magenta" fill="#dc3069"/>
<g clip-path="url(#c_magenta)">
<use href="#p_orange" fill="#d92358"/>
<use href="#p_red" fill="#d9225a"/>
<use href="#p_blue" fill="#d03868"/>
<g clip-path="url(#c_blue)"><use href="#p_red" fill="#d9225a"/></g>
<use href="#p_purple" fill="#cb205a"/>
</g>
<path d="M1306.9 588.3C1312.7 598.5 1319.4 608.7 1324.4 619.0C1329.1 628.9 1333.5 638.3 1336.3 648.8C1339.2 660.0 1340.7 673.1 1341.1 684.5C1341.4 694.9 1342.2 705.2 1339.3 714.3C1336.5 723.1 1331.6 730.8 1324.4 738.1C1315.1 747.4 1298.4 754.6 1285.4 762.9C1323.1 762.9 1360.8 762.9 1398.5 762.9C1388.7 756.6 1376.6 751.7 1369.0 744.0C1362.3 737.2 1357.6 729.4 1354.2 720.2C1350.2 709.9 1348.5 696.4 1348.2 684.5C1347.9 672.6 1348.6 659.5 1352.4 648.8C1355.9 638.8 1361.5 630.4 1369.0 622.0C1378.1 612.0 1393.1 603.5 1405.1 594.2C1372.3 592.2 1339.6 590.3 1306.9 588.3Z" fill="#bc1625" fill-opacity="0.88"/>
<path d="M1839.8 531.7C1847.5 545.0 1857.3 557.1 1863.1 571.4C1869.1 586.2 1872.5 602.6 1875.0 619.0C1877.6 636.3 1878.2 654.8 1878.0 672.6C1877.8 690.5 1876.4 708.9 1873.8 726.2C1871.3 742.6 1868.0 758.7 1863.1 773.8C1858.4 788.4 1853.8 802.8 1845.2 815.5C1836.1 829.0 1821.1 839.9 1809.0 852.2C1848.7 855.2 1888.4 858.1 1928.1 861.1C1918.3 849.9 1905.7 840.1 1898.8 827.4C1892.0 814.9 1889.4 800.2 1886.9 785.7C1884.3 770.5 1883.5 754.4 1883.9 738.1C1884.3 720.7 1886.5 702.2 1889.9 684.5C1893.4 666.5 1898.2 648.0 1904.8 631.0C1911.2 614.3 1917.8 598.8 1928.6 583.3C1940.9 565.6 1960.6 548.9 1976.7 531.7C1931.0 531.7 1885.4 531.7 1839.8 531.7Z" fill="#04933f" fill-opacity="0.88"/>
<path d="M698.4 1084.4C709.6 1092.4 719.8 1101.9 732.1 1108.3C744.9 1115.0 758.5 1119.2 773.8 1123.2C791.7 1127.9 814.5 1131.0 833.3 1133.3C850.0 1135.4 866.2 1137.3 881.0 1136.9C893.7 1136.5 905.1 1135.7 916.7 1132.1C928.9 1128.4 941.1 1121.9 952.4 1114.3C964.3 1106.2 974.9 1094.5 986.1 1084.6C986.1 1120.3 986.1 1156.1 986.1 1191.8C976.9 1183.8 968.7 1174.5 958.3 1167.9C947.6 1160.9 935.3 1155.0 922.6 1151.2C909.5 1147.3 895.3 1146.0 881.0 1145.2C865.6 1144.4 849.7 1145.8 833.3 1147.0C816.0 1148.3 796.4 1150.3 779.8 1153.0C764.9 1155.4 750.7 1157.6 738.1 1161.9C726.8 1165.8 717.6 1171.8 707.3 1176.7C704.3 1145.9 701.4 1115.2 698.4 1084.4Z" fill="#bc1625" fill-opacity="0.88"/>
<path d="M704.3 1563.7C715.6 1572.6 726.4 1582.5 738.1 1590.5C749.6 1598.3 760.7 1605.5 773.8 1611.3C788.2 1617.7 805.4 1622.7 821.4 1626.2C837.2 1629.6 853.7 1632.3 869.0 1632.1C883.4 1632.0 897.8 1630.7 910.7 1626.2C923.5 1621.7 934.9 1614.8 946.4 1605.4C960.3 1594.0 972.9 1575.6 986.1 1560.7C985.2 1604.4 984.2 1648.0 983.2 1691.7C972.9 1681.7 963.8 1669.4 952.4 1661.9C941.5 1654.8 929.7 1650.3 916.7 1647.0C902.2 1643.4 884.9 1643.0 869.0 1642.3C853.2 1641.6 836.7 1641.5 821.4 1642.9C807.0 1644.2 792.9 1646.2 779.8 1650.0C767.2 1653.6 755.5 1658.6 744.0 1664.9C732.3 1671.4 721.5 1680.8 710.3 1688.7C708.3 1647.0 706.3 1605.4 704.3 1563.7Z" fill="#04933f" fill-opacity="0.88"/>
<path d="M2229.9 1179.6C2238.2 1187.6 2245.6 1196.8 2254.7 1203.6C2263.8 1210.3 2272.7 1216.2 2284.5 1220.2C2299.3 1225.4 2319.7 1227.1 2338.0 1228.6C2357.3 1230.2 2378.9 1230.0 2397.6 1229.2C2414.4 1228.4 2431.3 1227.2 2445.2 1224.4C2456.4 1222.2 2465.6 1218.9 2475.0 1215.5C2483.7 1212.3 2491.5 1208.5 2499.8 1205.0C2498.8 1234.3 2497.8 1263.7 2496.8 1293.0C2489.5 1286.0 2483.2 1278.3 2475.0 1272.0C2466.1 1265.3 2456.7 1258.9 2445.2 1254.2C2431.5 1248.5 2413.6 1244.9 2397.6 1242.3C2381.8 1239.6 2365.8 1237.8 2350.0 1238.1C2334.1 1238.4 2316.8 1240.0 2302.3 1244.0C2289.3 1247.7 2278.4 1252.8 2266.6 1260.1C2253.2 1268.5 2240.1 1281.8 2226.9 1292.7C2227.9 1255.0 2228.9 1217.3 2229.9 1179.6Z" fill="#04933f" fill-opacity="0.88"/>
<path d="M2194.2 1624.2C2202.4 1632.2 2209.2 1642.3 2219.0 1648.2C2229.2 1654.4 2241.8 1657.2 2254.7 1660.1C2269.3 1663.4 2286.4 1665.3 2302.3 1666.1C2318.2 1666.9 2334.1 1666.4 2350.0 1664.9C2365.9 1663.4 2382.9 1660.2 2397.6 1657.1C2410.4 1654.5 2421.6 1651.7 2433.3 1648.2C2444.8 1644.8 2455.8 1640.4 2467.0 1636.5C2461.1 1672.2 2455.1 1707.9 2449.2 1743.6C2441.9 1735.6 2435.8 1726.5 2427.3 1719.6C2418.6 1712.5 2409.0 1706.9 2397.6 1701.8C2383.9 1695.6 2366.0 1689.9 2350.0 1686.9C2334.3 1684.0 2317.6 1683.3 2302.3 1683.9C2288.0 1684.5 2273.8 1686.3 2260.7 1689.9C2248.1 1693.3 2236.3 1698.1 2225.0 1704.8C2213.0 1711.8 2202.4 1722.5 2191.2 1731.4C2192.2 1695.6 2193.2 1659.9 2194.2 1624.2Z" fill="#bc1625" fill-opacity="0.88"/>
<path d="M1262.6 1978.6C1273.3 1987.8 1285.7 1996.0 1294.6 2006.3C1303.2 2016.2 1310.5 2027.5 1315.5 2039.0C1320.3 2050.3 1323.5 2062.3 1324.4 2074.8C1325.4 2088.0 1323.6 2102.8 1320.2 2116.4C1316.8 2130.6 1311.3 2144.7 1303.6 2158.1C1295.2 2172.6 1283.8 2186.5 1270.8 2199.8C1256.3 2214.7 1236.6 2228.2 1219.5 2242.4C1267.1 2243.4 1314.7 2244.4 1362.4 2245.4C1353.7 2232.1 1342.7 2219.6 1336.3 2205.7C1330.2 2192.4 1326.1 2178.1 1324.4 2164.0C1322.8 2150.3 1324.0 2136.6 1326.2 2122.4C1328.6 2106.9 1334.6 2088.7 1339.3 2074.8C1343.1 2063.6 1345.5 2054.7 1351.2 2045.0C1357.8 2033.8 1367.4 2022.1 1378.0 2012.3C1389.3 2001.8 1404.3 1993.8 1417.4 1984.5C1365.8 1982.5 1314.2 1980.6 1262.6 1978.6Z" fill="#04933f" fill-opacity="0.88"/>
<path d="M1762.0 2029.1C1771.9 2038.4 1782.6 2047.1 1791.7 2056.9C1800.4 2066.4 1810.0 2075.9 1815.5 2086.7C1820.6 2096.8 1822.9 2107.9 1824.4 2119.4C1826.0 2131.7 1825.9 2145.5 1824.4 2158.1C1822.9 2170.3 1820.2 2183.1 1815.5 2193.8C1811.1 2203.8 1804.9 2212.0 1797.6 2220.6C1789.4 2230.3 1777.7 2239.1 1767.8 2248.4C1799.5 2245.4 1831.3 2242.5 1863.0 2239.5C1857.1 2230.2 1850.0 2221.4 1845.2 2211.7C1840.6 2202.2 1836.7 2192.4 1834.5 2181.9C1832.2 2170.7 1832.3 2158.1 1832.1 2146.2C1831.9 2134.3 1831.5 2121.7 1833.3 2110.5C1835.1 2100.0 1838.1 2089.8 1842.3 2080.7C1846.2 2072.0 1851.7 2064.5 1857.1 2056.9C1862.6 2049.3 1869.1 2042.3 1875.1 2035.0C1837.4 2033.1 1799.7 2031.1 1762.0 2029.1Z" fill="#bc1625" fill-opacity="0.88"/>
<path d="M1336.9 753.6C1355.7 752.8 1376.9 752.1 1396.5 755.6C1416.7 759.2 1437.4 766.8 1456.1 775.5C1474.5 784.0 1492.3 795.0 1507.7 807.2C1522.6 819.0 1537.4 832.4 1547.5 847.0C1556.8 860.4 1563.4 875.4 1567.3 890.7C1571.3 905.9 1572.0 922.5 1571.3 938.3C1570.6 954.3 1568.4 971.6 1563.4 986.0C1558.7 999.2 1552.4 1012.4 1543.5 1021.7C1535.0 1030.7 1523.4 1037.6 1511.7 1041.6C1499.6 1045.7 1485.8 1045.5 1472.0 1045.6C1456.8 1045.7 1440.2 1042.9 1424.3 1041.6C1408.4 1040.3 1391.8 1038.3 1376.7 1037.6C1362.8 1037.1 1350.1 1036.3 1336.9 1037.6C1323.6 1039.0 1309.5 1041.4 1297.2 1045.6C1285.8 1049.5 1274.1 1054.1 1265.4 1061.5C1257.0 1068.7 1250.6 1079.3 1245.6 1089.3C1240.7 1099.2 1238.0 1110.0 1235.7 1121.1C1233.2 1132.5 1232.2 1144.6 1231.7 1156.8C1231.2 1169.7 1232.9 1183.3 1232.9 1196.5C1232.9 1209.8 1233.3 1223.4 1231.7 1236.2C1230.1 1248.6 1228.2 1261.2 1223.7 1272.0C1219.5 1282.3 1213.4 1291.9 1205.9 1299.8C1198.2 1307.8 1188.7 1314.8 1178.1 1319.7C1166.4 1325.0 1151.7 1327.6 1138.3 1329.6C1125.2 1331.5 1111.8 1332.6 1098.6 1331.6C1085.3 1330.6 1071.4 1328.2 1058.9 1323.6C1046.3 1319.0 1033.0 1312.9 1023.1 1303.8C1013.0 1294.5 1005.2 1281.1 999.3 1268.0C993.2 1254.6 990.4 1239.3 987.4 1224.3C984.3 1208.9 982.6 1192.6 981.4 1176.7C980.3 1160.8 980.0 1144.9 980.6 1129.0C981.3 1113.1 982.7 1097.1 985.4 1081.3C988.2 1065.3 992.0 1049.7 997.3 1033.7C1003.0 1016.6 1010.5 998.9 1019.2 982.0C1028.2 964.5 1039.1 946.9 1050.9 930.4C1062.9 913.7 1076.3 897.8 1090.7 882.7C1105.4 867.3 1122.1 852.5 1138.3 839.0C1153.9 826.1 1169.4 813.9 1186.0 803.3C1202.5 792.7 1220.1 782.8 1237.6 775.5C1254.5 768.4 1272.2 763.2 1289.3 759.6C1305.3 756.1 1320.1 754.4 1336.9 753.6Z" fill="#e6a6ab"/>
<path d="M2010.0 1479.0C2025.3 1477.0 2043.8 1477.3 2060.0 1478.0C2075.4 1478.7 2092.5 1479.0 2105.0 1483.0C2114.9 1486.2 2122.3 1491.3 2130.0 1497.0C2138.0 1502.9 2145.3 1510.6 2152.0 1518.0C2158.6 1525.3 2164.7 1532.8 2170.0 1541.0C2175.4 1549.4 2180.0 1558.6 2184.0 1568.0C2188.1 1577.6 2191.7 1588.2 2194.0 1598.0C2196.2 1607.1 2197.2 1616.0 2198.0 1625.0C2198.8 1634.0 2199.0 1642.3 2199.0 1652.0C2199.1 1663.4 2198.6 1676.4 2198.0 1689.0C2197.3 1702.3 2196.8 1718.5 2195.0 1730.0C2193.7 1738.5 2192.1 1743.0 2189.7 1751.8C2186.0 1765.7 2180.5 1788.1 2174.1 1805.4C2167.8 1822.3 2160.5 1838.4 2151.8 1854.5C2142.7 1871.2 2131.8 1887.9 2120.5 1903.6C2109.4 1919.1 2098.7 1935.0 2084.8 1948.2C2070.5 1961.9 2052.9 1973.5 2035.7 1983.9C2018.7 1994.3 2000.7 2003.3 1982.1 2010.7C1963.5 2018.2 1943.6 2024.1 1924.1 2028.6C1904.9 2033.0 1885.1 2036.0 1866.1 2037.5C1847.9 2038.9 1830.3 2039.0 1812.5 2037.5C1794.6 2036.0 1776.1 2033.8 1758.9 2028.6C1741.8 2023.4 1724.3 2015.6 1709.8 2006.2C1696.2 1997.5 1684.4 1987.3 1674.1 1975.0C1663.4 1962.2 1654.1 1945.7 1647.3 1930.4C1640.9 1915.9 1636.7 1900.7 1633.9 1885.7C1631.2 1871.0 1630.0 1855.5 1630.8 1841.1C1631.6 1827.3 1634.1 1813.6 1638.4 1800.9C1642.6 1788.3 1648.2 1775.5 1656.2 1765.2C1664.5 1754.7 1675.9 1746.1 1687.5 1738.4C1699.6 1730.4 1713.8 1724.5 1727.7 1718.3C1742.0 1711.9 1758.0 1706.9 1772.3 1700.4C1786.2 1694.2 1800.4 1688.4 1812.5 1680.4C1824.1 1672.7 1834.7 1663.4 1843.8 1653.6C1852.5 1644.0 1859.4 1633.4 1866.1 1622.3C1872.8 1611.1 1878.0 1598.5 1883.9 1586.6C1889.9 1574.7 1895.7 1561.7 1901.8 1550.9C1907.1 1541.4 1911.3 1532.8 1918.0 1525.0C1925.0 1516.8 1933.9 1509.2 1943.0 1503.0C1952.1 1496.8 1962.1 1491.9 1972.8 1488.0C1984.3 1483.8 1996.6 1480.7 2010.0 1479.0Z" fill="#e6a6ab"/>
<path d="M1803.6 850.9C1819.0 849.4 1838.3 847.6 1857.1 848.2C1878.2 848.9 1902.1 850.6 1924.1 856.2C1946.8 862.0 1969.2 872.2 1991.1 883.0C2013.9 894.3 2037.5 908.6 2058.0 923.2C2077.5 937.0 2094.8 951.2 2111.6 967.9C2129.1 985.3 2145.8 1005.7 2160.7 1025.9C2175.5 1045.9 2190.1 1067.9 2200.9 1088.4C2210.4 1106.5 2217.6 1124.3 2223.2 1142.0C2228.5 1158.5 2232.3 1175.0 2234.4 1191.1C2236.3 1206.2 2236.2 1220.9 2235.7 1235.7C2235.2 1250.6 2234.0 1265.6 2231.2 1280.4C2228.4 1295.4 2224.6 1310.8 2218.8 1325.0C2213.0 1339.1 2206.2 1354.0 2196.4 1365.2C2186.8 1376.2 2174.0 1385.4 2160.7 1392.0C2147.2 1398.6 2131.1 1403.4 2116.1 1404.5C2101.3 1405.5 2086.0 1402.8 2071.4 1398.7C2056.2 1394.4 2040.8 1387.0 2026.8 1378.6C2012.5 1370.0 1999.1 1359.0 1986.6 1347.3C1973.8 1335.3 1962.2 1320.7 1950.9 1307.1C1939.9 1293.9 1930.2 1279.8 1919.6 1267.0C1909.4 1254.6 1899.2 1242.0 1888.4 1231.2C1878.3 1221.3 1868.9 1212.9 1857.1 1204.5C1843.9 1194.9 1828.0 1185.8 1812.5 1177.7C1796.7 1169.4 1779.6 1163.5 1763.4 1155.4C1746.9 1147.1 1728.7 1139.3 1714.3 1128.6C1700.6 1118.3 1687.9 1106.4 1678.6 1092.9C1669.4 1079.5 1662.6 1063.4 1658.5 1048.2C1654.6 1033.6 1654.0 1018.5 1654.0 1003.6C1654.0 988.7 1655.1 973.2 1658.5 958.9C1661.8 944.9 1666.9 930.8 1674.1 918.8C1681.1 907.0 1690.1 896.3 1700.9 887.5C1712.3 878.2 1728.3 870.7 1741.1 865.2C1751.9 860.5 1761.8 857.7 1772.3 855.4C1782.6 853.0 1791.7 852.0 1803.6 850.9Z" fill="#9dd4b4"/>
<path d="M1135.7 1431.2C1153.5 1430.5 1172.0 1431.5 1189.3 1434.8C1206.2 1438.0 1223.4 1442.9 1238.4 1450.4C1253.1 1457.9 1267.2 1468.3 1278.6 1479.5C1289.3 1490.0 1297.8 1502.9 1305.4 1515.2C1312.5 1526.8 1317.3 1539.0 1323.2 1550.9C1329.2 1562.8 1333.7 1575.5 1341.1 1586.6C1348.5 1597.9 1357.5 1607.9 1367.9 1617.9C1379.4 1628.9 1394.2 1638.9 1408.0 1649.1C1422.4 1659.7 1438.3 1669.8 1452.7 1680.4C1466.6 1690.6 1480.8 1700.2 1492.9 1711.6C1504.5 1722.6 1515.8 1734.4 1524.1 1747.3C1532.1 1759.8 1538.1 1773.4 1542.0 1787.5C1545.9 1801.7 1547.0 1817.2 1547.3 1832.1C1547.7 1847.0 1546.7 1862.4 1544.2 1876.8C1541.8 1890.7 1538.8 1904.9 1533.0 1917.0C1527.5 1928.6 1520.1 1939.4 1510.7 1948.2C1500.9 1957.4 1488.0 1964.7 1475.0 1970.5C1461.3 1976.7 1446.1 1980.6 1430.4 1983.9C1413.5 1987.5 1394.7 1989.9 1376.8 1990.6C1359.0 1991.4 1341.0 1990.2 1323.2 1988.4C1305.3 1986.5 1287.3 1983.9 1269.6 1979.5C1251.6 1975.0 1233.7 1968.9 1216.1 1961.6C1197.9 1954.1 1179.6 1945.2 1162.5 1934.8C1145.3 1924.4 1128.9 1912.3 1113.4 1899.1C1097.6 1885.6 1082.2 1870.3 1068.8 1854.5C1055.5 1839.0 1043.5 1822.5 1033.0 1805.4C1022.7 1788.3 1013.8 1769.9 1006.2 1751.8C999.0 1734.2 992.9 1716.2 988.4 1698.2C984.0 1680.5 980.9 1662.6 979.5 1644.6C978.0 1626.8 977.9 1608.5 979.5 1591.1C981.0 1574.3 983.2 1557.6 988.4 1542.0C993.6 1526.3 1001.6 1510.8 1010.7 1497.3C1019.6 1484.1 1029.9 1471.3 1042.0 1461.6C1053.8 1452.0 1067.3 1444.3 1082.1 1439.3C1098.3 1433.8 1117.8 1432.0 1135.7 1431.2Z" fill="#9dd4b4"/>
<path d="M1092.7 881.9Q1180.4 988.7 1265.4 1063.5Q1194.9 974.9 1092.7 881.9Z" fill="#fff"/>
<path d="M2109.4 966.5Q1967.3 1092.0 1863.8 1207.6Q1981.3 1106.2 2109.4 966.5Z" fill="#fff"/>
<path d="M1361.2 1615.6Q1204.4 1753.3 1088.8 1879.0Q1218.3 1767.7 1361.2 1615.6Z" fill="#fff"/>
<path d="M1828.1 1670.5Q1963.2 1832.5 2087.1 1952.7Q1977.9 1819.0 1828.1 1670.5Z" fill="#fff"/>
<path d="M1368.8 143.5C1387.9 144.8 1407.1 149.2 1425.7 155.9C1445.1 162.8 1464.4 174.8 1482.5 184.8C1499.8 194.3 1516.8 205.5 1532.1 214.5C1545.0 222.1 1555.8 229.9 1568.3 235.1C1580.2 240.2 1592.7 244.7 1605.3 245.9C1618.0 247.2 1631.5 245.5 1644.1 242.5C1656.9 239.5 1668.5 233.4 1681.4 227.8C1695.8 221.5 1711.7 214.2 1726.4 206.2C1741.4 198.1 1755.7 187.1 1770.5 179.5C1784.4 172.2 1797.1 165.5 1812.5 161.0C1829.7 156.0 1849.2 152.6 1869.3 152.2C1891.9 151.8 1919.1 155.1 1941.4 160.6C1961.8 165.6 1980.4 172.7 1998.3 182.4C2016.5 192.2 2035.0 205.1 2049.5 219.3C2063.2 232.8 2074.2 249.5 2083.5 264.9C2091.9 278.8 2099.2 292.6 2103.7 307.0C2108.0 320.6 2110.2 334.7 2110.5 348.6C2110.8 362.4 2109.2 376.6 2105.4 389.9C2101.6 403.4 2095.2 416.6 2087.5 429.0C2079.2 442.2 2068.6 455.0 2056.7 466.3C2044.1 478.1 2028.9 489.0 2013.6 497.9C1998.4 506.8 1982.5 514.2 1965.2 519.8C1946.5 525.8 1921.6 532.7 1904.9 531.8C1892.6 531.1 1883.3 526.8 1873.5 521.8C1863.7 516.8 1855.5 509.7 1846.1 501.9C1834.7 492.5 1823.1 479.2 1810.6 468.6C1797.8 457.7 1784.7 446.5 1770.3 437.6C1755.7 428.6 1739.4 420.8 1723.5 415.1C1708.1 409.6 1692.2 406.0 1676.7 403.6C1661.9 401.4 1647.3 400.5 1632.5 401.0C1617.6 401.5 1601.6 403.5 1587.5 406.8C1574.4 409.8 1561.5 414.1 1550.5 419.4C1540.7 424.1 1532.9 428.7 1524.1 436.1C1512.8 445.6 1500.8 460.4 1490.2 473.7C1479.5 487.2 1470.4 502.7 1460.4 516.3C1450.7 529.5 1441.6 543.4 1431.1 554.2C1421.7 564.0 1412.1 573.6 1401.0 579.2C1390.3 584.6 1378.0 587.5 1366.1 588.1C1353.7 588.6 1340.0 586.9 1328.1 581.9C1315.5 576.7 1303.7 566.9 1292.9 556.2C1280.7 544.3 1270.0 528.5 1259.7 512.4C1248.4 494.7 1237.4 473.4 1228.6 453.6C1220.2 434.4 1212.7 414.9 1207.8 395.3C1203.1 376.4 1200.7 356.6 1199.4 338.2C1198.3 321.0 1198.7 304.6 1199.9 288.2C1201.2 272.1 1202.2 255.6 1206.8 240.5C1211.4 225.6 1218.2 210.4 1227.4 198.2C1236.5 186.1 1248.3 175.6 1261.6 167.3C1276.0 158.4 1294.1 151.7 1311.6 147.7C1329.7 143.6 1349.8 142.1 1368.8 143.5ZM1370.0 123.5C1391.0 124.6 1412.1 128.2 1432.7 133.9C1453.9 139.8 1475.7 149.9 1495.5 158.8C1513.9 167.2 1532.4 177.6 1547.9 185.5C1560.4 191.9 1570.9 198.7 1581.7 202.9C1591.0 206.4 1599.6 209.3 1608.7 210.1C1617.6 210.8 1626.5 209.5 1635.9 207.5C1646.4 205.2 1656.9 200.5 1668.6 196.2C1682.3 191.3 1698.3 186.0 1713.0 179.4C1728.3 172.4 1743.1 162.1 1758.7 155.1C1774.3 148.2 1789.3 142.0 1806.5 137.8C1825.8 133.0 1847.3 129.4 1869.3 129.2C1893.7 129.0 1922.4 132.5 1946.6 138.2C1969.0 143.5 1989.9 150.7 2009.7 161.2C2029.8 171.9 2050.2 186.4 2066.1 202.1C2081.3 217.0 2093.8 235.2 2103.9 252.3C2113.2 267.9 2120.7 283.8 2125.7 300.0C2130.4 315.8 2133.4 332.2 2133.5 348.2C2133.6 364.2 2131.1 380.7 2126.6 396.1C2122.0 411.6 2114.9 426.9 2105.9 441.0C2096.6 455.6 2084.2 469.4 2070.9 481.7C2057.1 494.5 2040.8 506.5 2024.2 516.1C2007.5 525.6 1989.9 533.4 1970.8 539.0C1950.4 545.0 1924.3 550.5 1905.1 549.8C1890.1 549.2 1877.3 545.4 1865.1 540.0C1853.2 534.7 1843.5 526.6 1832.7 518.1C1820.7 508.7 1808.8 495.8 1796.4 485.4C1784.2 475.2 1772.3 464.5 1758.9 456.4C1745.5 448.3 1730.5 441.6 1715.9 436.9C1702.0 432.4 1687.3 430.0 1673.3 428.4C1659.8 426.8 1646.8 426.5 1633.5 427.0C1619.9 427.5 1605.3 428.8 1592.5 431.2C1580.8 433.5 1569.2 436.7 1559.5 440.6C1551.3 443.8 1545.3 446.3 1537.9 451.9C1527.6 459.7 1516.0 474.0 1505.8 486.3C1495.2 499.1 1485.8 514.1 1475.6 527.7C1465.5 541.1 1456.2 555.7 1444.9 567.4C1434.1 578.4 1422.8 589.6 1409.6 596.2C1396.7 602.6 1381.3 605.9 1366.7 606.5C1351.8 607.2 1335.3 605.0 1320.9 599.5C1305.7 593.6 1291.4 583.0 1278.3 571.4C1264.2 558.8 1251.5 542.6 1239.7 525.6C1226.9 507.2 1214.9 485.2 1205.0 464.4C1195.4 444.2 1186.7 423.6 1180.8 402.7C1175.0 382.3 1171.3 360.8 1169.6 340.6C1168.0 321.9 1168.4 303.9 1170.1 285.8C1171.7 267.6 1173.3 248.8 1179.2 231.5C1185.2 213.9 1194.4 195.6 1206.2 181.4C1218.0 167.3 1233.4 155.4 1249.8 146.5C1266.9 137.1 1287.5 130.9 1307.4 127.1C1327.6 123.2 1349.2 122.4 1370.0 123.5Z" fill="#929bc9" fill-rule="evenodd"/>
<path d="M2498.7 1206.6C2505.7 1199.3 2515.8 1190.3 2525.7 1182.7C2536.5 1174.3 2548.5 1166.3 2561.6 1158.7C2576.2 1150.3 2592.8 1141.7 2609.5 1134.8C2626.6 1127.7 2645.5 1121.9 2663.3 1116.9C2680.4 1112.0 2698.3 1107.4 2714.2 1104.9C2727.9 1102.8 2740.4 1101.1 2753.1 1101.9C2765.3 1102.7 2778.0 1104.8 2789.0 1109.4C2799.9 1113.9 2809.7 1120.9 2818.9 1128.8C2828.7 1137.2 2837.7 1147.4 2845.8 1158.7C2854.8 1171.1 2862.5 1185.7 2869.8 1200.6C2877.6 1216.5 2884.8 1234.1 2890.7 1251.5C2896.7 1269.0 2901.4 1287.3 2905.7 1305.4C2909.9 1323.2 2913.6 1341.2 2916.2 1359.2C2918.7 1377.1 2920.0 1400.2 2921.2 1413.1C2922.0 1420.3 2922.7 1422.6 2923.0 1429.9C2923.7 1443.3 2923.7 1467.8 2923.0 1486.8C2922.4 1505.7 2921.5 1524.7 2919.2 1543.6C2916.8 1562.6 2913.4 1581.9 2908.7 1600.5C2903.9 1618.8 2898.2 1636.9 2890.7 1654.3C2883.2 1671.9 2873.9 1689.1 2863.8 1705.2C2853.9 1721.0 2842.6 1736.4 2830.9 1750.1C2819.6 1763.2 2808.0 1775.5 2795.0 1786.0C2782.1 1796.4 2767.9 1805.5 2753.1 1812.9C2738.0 1820.5 2721.5 1825.4 2705.2 1830.9C2688.6 1836.4 2671.5 1842.6 2654.3 1845.8C2637.5 1849.0 2620.1 1850.9 2603.5 1850.3C2587.2 1849.8 2570.4 1847.3 2555.6 1842.8C2541.6 1838.6 2528.8 1832.0 2516.7 1824.9C2504.9 1818.0 2493.5 1809.7 2483.8 1801.0C2474.7 1792.7 2466.1 1783.8 2459.8 1774.0C2453.8 1764.7 2449.6 1754.5 2446.4 1744.1C2443.1 1733.6 2441.1 1721.9 2440.4 1711.2C2439.7 1701.0 2440.2 1691.1 2441.9 1681.3C2443.6 1671.2 2446.9 1660.9 2450.9 1651.3C2454.9 1641.9 2459.9 1632.8 2465.8 1624.4C2471.8 1615.9 2479.1 1608.2 2486.8 1600.5C2495.0 1592.2 2503.9 1584.6 2513.7 1576.5C2524.6 1567.6 2537.1 1558.8 2549.6 1549.6C2563.0 1539.8 2578.4 1530.3 2591.5 1519.7C2604.3 1509.3 2616.7 1498.1 2627.4 1486.8C2637.5 1476.2 2647.4 1465.0 2654.3 1453.9C2660.4 1444.0 2665.7 1433.8 2667.8 1423.9C2669.7 1415.2 2670.1 1406.0 2667.8 1398.1C2665.5 1390.4 2660.3 1383.7 2654.3 1377.2C2647.4 1369.6 2637.7 1362.0 2627.4 1356.2C2616.0 1349.8 2601.5 1346.0 2588.5 1341.3C2575.6 1336.5 2562.0 1332.5 2549.6 1327.8C2538.1 1323.5 2526.5 1319.9 2516.7 1314.3C2507.7 1309.2 2498.5 1304.0 2492.8 1296.4C2487.1 1288.9 2484.3 1278.8 2482.3 1269.5C2480.2 1259.9 2479.6 1248.1 2480.8 1239.5C2481.7 1232.7 2483.8 1227.1 2486.8 1221.6C2489.8 1216.1 2493.7 1212.0 2498.7 1206.6ZM2546.6 1200.6C2556.9 1191.7 2569.6 1184.0 2582.5 1176.7C2596.4 1168.9 2612.0 1162.0 2627.4 1155.8C2642.9 1149.5 2659.2 1143.6 2675.3 1139.3C2691.1 1135.1 2708.3 1131.4 2723.2 1130.3C2735.9 1129.4 2747.5 1129.5 2759.1 1131.8C2770.5 1134.1 2781.8 1137.7 2792.0 1143.8C2802.9 1150.3 2812.7 1160.3 2821.9 1170.7C2831.8 1182.0 2840.8 1195.6 2848.8 1209.6C2857.3 1224.4 2864.7 1241.4 2871.3 1257.5C2877.7 1273.3 2883.1 1288.8 2887.7 1305.4C2892.6 1322.7 2896.7 1341.2 2899.7 1359.2C2902.7 1377.1 2904.4 1400.2 2905.7 1413.1C2906.4 1420.3 2907.0 1422.7 2907.2 1429.9C2907.6 1442.8 2907.0 1466.1 2905.7 1483.8C2904.4 1501.0 2902.7 1517.8 2899.7 1534.6C2896.7 1551.7 2892.8 1569.0 2887.7 1585.5C2882.8 1601.9 2876.8 1617.9 2869.8 1633.4C2862.8 1648.8 2854.8 1663.9 2845.8 1678.3C2836.8 1692.8 2826.7 1707.4 2815.9 1720.2C2805.7 1732.3 2794.6 1743.0 2783.0 1753.1C2771.6 1762.9 2760.0 1772.3 2747.1 1780.0C2734.1 1787.8 2719.6 1793.8 2705.2 1799.5C2690.7 1805.2 2675.5 1810.9 2660.3 1814.4C2645.5 1817.8 2629.9 1820.6 2615.4 1820.4C2602.0 1820.3 2588.7 1818.3 2576.5 1814.4C2564.8 1810.7 2553.8 1804.4 2543.6 1798.0C2533.9 1791.8 2524.8 1784.7 2516.7 1777.0C2508.9 1769.6 2501.5 1762.0 2495.8 1753.1C2490.0 1744.1 2485.5 1733.3 2482.3 1723.2C2479.1 1713.4 2476.8 1703.2 2476.3 1693.2C2475.8 1683.3 2477.0 1672.9 2479.3 1663.3C2481.5 1653.9 2485.2 1645.1 2489.8 1636.4C2494.6 1627.1 2500.6 1618.1 2507.7 1609.5C2515.4 1600.1 2524.8 1591.5 2534.6 1582.5C2545.6 1572.6 2558.2 1562.5 2570.6 1552.6C2583.2 1542.5 2597.2 1532.9 2609.5 1522.7C2621.1 1512.9 2632.7 1503.5 2642.4 1492.8C2651.6 1482.5 2660.2 1471.3 2666.3 1459.8C2671.9 1449.3 2676.3 1438.2 2678.3 1426.9C2680.3 1415.7 2681.0 1402.7 2678.3 1392.1C2675.7 1382.2 2670.2 1373.1 2663.3 1365.2C2655.7 1356.5 2644.5 1348.9 2633.4 1342.8C2621.7 1336.3 2607.5 1332.6 2594.5 1327.8C2581.6 1323.1 2567.2 1319.5 2555.6 1314.3C2545.6 1309.9 2535.6 1305.5 2528.7 1299.4C2522.7 1294.2 2518.2 1288.4 2515.2 1281.4C2511.9 1273.7 2509.6 1263.3 2510.7 1254.5C2511.9 1245.3 2517.2 1236.1 2522.7 1227.6C2528.8 1218.1 2537.2 1208.8 2546.6 1200.6Z" fill="#929bc9" fill-rule="evenodd"/>
<path d="M1291.5 2215.3C1303.9 2215.3 1315.8 2218.8 1327.4 2223.4C1339.8 2228.2 1353.4 2235.1 1363.3 2244.3C1373.3 2253.6 1379.9 2266.4 1387.3 2278.7C1395.0 2291.8 1401.2 2306.7 1408.2 2320.6C1415.2 2334.6 1422.5 2350.6 1429.1 2362.5C1434.3 2371.8 1437.5 2379.0 1444.1 2386.5C1451.8 2395.2 1462.7 2402.9 1474.0 2410.4C1487.1 2419.0 1503.6 2428.0 1518.9 2434.3C1533.6 2440.4 1550.7 2445.5 1563.8 2447.8C1573.6 2449.5 1579.5 2450.3 1589.9 2449.3C1605.9 2447.8 1633.8 2441.6 1649.8 2434.3C1662.1 2428.7 1671.2 2421.9 1679.7 2413.4C1688.2 2404.9 1694.7 2394.2 1700.6 2383.5C1706.7 2372.4 1711.1 2359.9 1715.6 2347.6C1720.1 2335.0 1722.9 2320.9 1727.6 2308.7C1732.0 2297.1 1736.3 2285.5 1742.5 2275.8C1748.4 2266.7 1755.1 2258.0 1763.5 2251.8C1772.0 2245.5 1782.7 2241.3 1793.4 2238.3C1804.6 2235.2 1816.7 2234.0 1829.3 2233.9C1843.4 2233.7 1859.4 2235.4 1874.2 2238.3C1889.3 2241.3 1904.4 2245.8 1919.1 2251.8C1934.3 2258.1 1949.9 2266.7 1963.9 2275.8C1977.8 2284.7 1990.7 2294.1 2002.8 2305.7C2015.7 2317.9 2028.0 2332.1 2038.8 2347.6C2050.1 2363.9 2060.6 2383.1 2068.7 2401.4C2076.4 2419.0 2081.9 2437.2 2086.6 2455.3C2091.3 2473.1 2095.2 2491.9 2097.1 2509.1C2098.9 2524.7 2099.8 2539.1 2098.6 2554.0C2097.4 2569.1 2094.6 2584.5 2089.6 2598.9C2084.6 2613.5 2077.5 2628.6 2068.7 2640.8C2060.3 2652.4 2050.5 2662.0 2038.8 2670.7C2025.9 2680.2 2010.3 2688.3 1993.9 2694.7C1975.7 2701.6 1954.1 2706.6 1934.0 2709.6C1914.2 2712.6 1895.2 2713.3 1874.2 2712.6C1850.6 2711.8 1822.8 2708.0 1799.4 2703.6C1778.2 2699.7 1759.4 2694.1 1739.5 2688.7C1719.5 2683.2 1699.8 2675.3 1679.7 2670.7C1659.9 2666.2 1635.7 2663.1 1619.8 2661.1C1609.4 2659.8 1603.5 2657.9 1593.7 2658.8C1580.7 2659.9 1563.6 2665.4 1548.8 2670.7C1533.6 2676.3 1518.9 2684.7 1503.9 2691.7C1489.0 2698.7 1474.3 2707.1 1459.1 2712.6C1444.3 2718.0 1429.3 2722.2 1414.2 2724.6C1399.3 2726.9 1384.9 2727.8 1369.3 2727.0C1352.1 2726.1 1332.3 2723.2 1315.4 2718.6C1299.5 2714.2 1284.6 2708.2 1270.6 2700.6C1256.7 2693.2 1243.6 2684.1 1231.7 2673.7C1219.6 2663.2 1208.8 2650.4 1198.7 2637.8C1188.9 2625.4 1179.7 2612.7 1171.8 2598.9C1163.7 2584.8 1156.6 2569.7 1150.9 2554.0C1145.0 2537.9 1140.5 2520.5 1137.4 2503.2C1134.3 2485.6 1132.4 2466.4 1132.3 2449.3C1132.2 2433.7 1133.5 2419.8 1135.9 2404.4C1138.5 2387.9 1142.9 2370.1 1147.9 2353.5C1152.8 2337.2 1158.6 2320.5 1165.8 2305.7C1172.7 2291.7 1180.5 2278.2 1189.8 2266.8C1198.6 2255.9 1209.1 2245.5 1219.7 2238.3C1229.2 2232.0 1238.6 2228.6 1249.6 2224.9C1262.2 2220.7 1278.1 2215.3 1291.5 2215.3ZM1291.5 2244.3C1301.9 2244.1 1312.8 2247.7 1321.4 2250.3C1328.3 2252.4 1333.5 2253.4 1339.4 2257.8C1347.6 2264.0 1356.0 2276.7 1363.3 2287.7C1371.1 2299.5 1377.4 2313.4 1384.3 2326.6C1391.3 2340.3 1397.9 2355.6 1405.2 2368.5C1411.9 2380.3 1417.4 2391.6 1426.2 2401.4C1435.2 2411.7 1446.8 2420.2 1459.1 2428.4C1472.5 2437.3 1488.7 2445.7 1503.9 2452.3C1518.6 2458.6 1534.0 2464.0 1548.8 2467.3C1562.7 2470.3 1575.5 2472.0 1589.9 2471.7C1606.0 2471.4 1625.9 2468.6 1640.8 2464.3C1653.2 2460.6 1663.7 2455.8 1673.7 2449.3C1683.7 2442.8 1692.7 2434.3 1700.6 2425.4C1708.6 2416.4 1715.7 2406.2 1721.6 2395.4C1727.7 2384.3 1732.0 2371.6 1736.5 2359.5C1741.0 2347.6 1744.3 2335.0 1748.5 2323.6C1752.4 2313.1 1755.6 2302.5 1760.5 2293.7C1764.8 2285.8 1769.3 2278.3 1775.4 2272.8C1781.4 2267.4 1788.7 2263.5 1796.4 2260.8C1804.6 2257.9 1813.7 2256.5 1823.3 2256.3C1834.4 2256.1 1846.9 2258.3 1859.2 2260.8C1872.8 2263.6 1887.2 2267.1 1901.1 2272.8C1916.1 2278.8 1932.0 2287.2 1946.0 2296.7C1960.0 2306.2 1973.0 2317.3 1984.9 2329.6C1997.0 2342.2 2008.3 2356.6 2017.8 2371.5C2027.3 2386.5 2035.1 2403.4 2041.7 2419.4C2048.0 2434.4 2053.2 2449.1 2056.7 2464.3C2060.1 2479.1 2061.7 2494.2 2062.7 2509.1C2063.7 2524.1 2064.6 2539.2 2062.7 2554.0C2060.7 2569.1 2057.2 2585.0 2050.7 2598.9C2044.2 2612.9 2035.2 2626.6 2023.8 2637.8C2011.6 2649.8 1995.6 2659.9 1978.9 2667.7C1961.0 2676.2 1939.2 2682.2 1919.1 2685.7C1899.3 2689.1 1879.1 2690.1 1859.2 2688.7C1839.2 2687.2 1819.1 2682.1 1799.4 2676.7C1779.2 2671.2 1759.6 2662.3 1739.5 2655.8C1719.7 2649.3 1699.8 2641.9 1679.7 2637.8C1659.9 2633.8 1639.1 2630.6 1619.8 2631.2C1601.6 2631.9 1582.9 2636.3 1566.8 2640.8C1552.6 2644.8 1540.7 2649.9 1527.9 2655.8C1514.7 2661.8 1501.8 2670.6 1489.0 2676.7C1476.9 2682.5 1465.5 2687.8 1453.1 2691.7C1440.5 2695.6 1427.2 2698.8 1414.2 2700.0C1401.3 2701.3 1388.6 2701.3 1375.3 2699.2C1360.7 2696.8 1344.6 2691.1 1330.4 2685.7C1316.8 2680.5 1303.8 2675.1 1291.5 2667.7C1278.9 2660.2 1266.6 2650.8 1255.6 2640.8C1244.7 2630.8 1234.7 2619.5 1225.7 2607.9C1216.8 2596.5 1208.9 2584.7 1201.7 2572.0C1194.4 2558.8 1187.5 2544.5 1182.3 2530.1C1177.0 2515.6 1173.0 2500.8 1170.3 2485.2C1167.5 2468.9 1166.1 2450.7 1166.4 2434.3C1166.8 2418.9 1169.0 2404.6 1171.8 2389.5C1174.7 2373.7 1178.5 2356.5 1183.8 2341.6C1188.7 2327.7 1194.5 2314.4 1201.7 2302.7C1208.6 2291.6 1216.5 2281.1 1225.7 2272.8C1234.5 2264.7 1244.7 2258.0 1255.6 2253.3C1266.7 2248.5 1280.0 2244.6 1291.5 2244.3Z" fill="#929bc9" fill-rule="evenodd"/>
<path d="M528.2 985.4C545.4 985.5 562.8 986.5 579.1 989.9C594.7 993.2 610.0 997.9 623.9 1004.9C637.9 1011.9 651.2 1021.6 662.8 1031.8C674.1 1041.7 684.8 1052.6 692.8 1064.7C700.6 1076.6 706.6 1090.7 710.7 1103.6C714.5 1115.6 716.8 1127.5 717.3 1139.5C717.8 1151.5 717.1 1164.6 713.7 1175.4C710.6 1185.4 705.5 1193.9 698.8 1202.4C691.1 1212.0 679.5 1220.6 668.8 1229.3C657.6 1238.5 644.8 1246.9 632.9 1256.2C620.8 1265.8 608.1 1275.5 597.0 1286.2C586.2 1296.5 575.7 1307.4 567.1 1319.1C558.8 1330.4 552.2 1342.8 546.2 1355.0C540.3 1366.7 535.1 1378.5 531.2 1390.9C527.3 1403.4 522.6 1418.1 522.8 1429.9C523.0 1439.8 526.1 1448.4 529.7 1456.9C533.3 1465.4 538.6 1473.4 544.7 1480.8C551.0 1488.5 558.5 1495.5 567.1 1501.7C576.6 1508.6 588.4 1514.1 600.0 1519.7C612.3 1525.6 626.2 1530.6 638.9 1536.1C651.2 1541.5 663.5 1546.7 674.8 1552.6C685.4 1558.2 696.2 1563.0 704.7 1570.6C713.2 1578.0 720.6 1587.1 725.7 1597.5C731.2 1608.8 734.3 1624.5 735.3 1636.4C736.1 1646.1 735.7 1654.9 733.2 1663.3C730.6 1671.8 725.3 1679.3 719.7 1687.3C713.2 1696.3 704.8 1705.5 695.8 1714.2C686.0 1723.6 674.5 1732.4 662.8 1741.1C650.6 1750.3 637.6 1759.7 623.9 1768.0C609.8 1776.7 594.5 1785.0 579.1 1792.0C563.6 1799.0 547.3 1804.9 531.2 1809.9C515.4 1814.9 499.4 1819.4 483.3 1821.9C467.5 1824.4 451.3 1826.1 435.4 1824.9C419.4 1823.7 402.7 1819.5 387.6 1814.4C372.8 1809.5 358.7 1802.8 345.7 1795.0C332.8 1787.3 320.2 1778.5 309.8 1768.0C299.3 1757.6 290.4 1744.8 282.8 1732.1C275.5 1719.8 269.4 1706.9 264.9 1693.2C260.2 1679.1 256.7 1662.9 255.3 1648.4C254.0 1635.0 254.5 1622.1 255.9 1609.5C257.3 1597.2 260.3 1585.7 263.4 1573.5C266.7 1560.8 271.1 1547.6 275.4 1534.6C279.6 1521.6 284.5 1508.5 288.8 1495.8C293.0 1483.6 297.9 1471.7 300.8 1459.8C303.5 1448.7 306.6 1436.6 306.2 1426.9C305.8 1419.1 303.2 1413.0 300.8 1405.8C298.1 1398.0 294.2 1390.7 290.3 1381.9C285.5 1371.1 279.2 1357.7 273.9 1346.0C268.7 1334.8 263.1 1324.7 258.9 1313.1C254.5 1300.8 250.8 1287.7 248.4 1274.2C245.9 1259.9 243.8 1244.2 244.5 1229.3C245.3 1214.3 248.7 1199.4 252.9 1184.4C257.3 1168.5 263.4 1151.9 270.9 1136.5C278.4 1121.0 287.4 1105.6 297.8 1091.7C308.3 1077.6 320.6 1064.3 333.7 1052.8C346.6 1041.4 360.7 1031.3 375.6 1022.8C390.6 1014.3 407.0 1007.4 423.5 1001.9C439.9 996.4 457.0 992.7 474.3 989.9C491.9 987.1 510.5 985.4 528.2 985.4ZM519.2 1015.4C534.2 1015.6 549.9 1016.5 564.1 1019.8C577.8 1023.1 591.0 1028.3 603.0 1034.8C614.9 1041.3 626.2 1050.0 635.9 1058.7C645.0 1067.0 652.7 1076.4 659.9 1085.7C666.6 1094.4 673.6 1103.3 677.8 1112.6C681.7 1121.3 684.1 1130.3 684.7 1139.5C685.3 1149.2 683.9 1160.0 680.8 1169.5C677.7 1179.0 672.4 1188.2 665.8 1196.4C658.7 1205.3 648.7 1212.3 638.9 1220.3C628.0 1229.3 614.5 1237.8 603.0 1247.3C591.6 1256.7 580.4 1266.6 570.1 1277.2C559.9 1287.6 549.7 1298.4 541.7 1310.1C533.9 1321.4 527.5 1333.5 522.2 1346.0C517.0 1358.5 512.8 1371.3 510.2 1384.9C507.5 1399.2 506.1 1416.5 506.7 1429.9C507.1 1440.9 509.1 1450.3 511.7 1459.8C514.3 1469.2 517.3 1478.6 522.2 1486.8C527.2 1495.1 534.1 1502.4 541.7 1509.2C549.8 1516.5 559.9 1522.4 570.1 1528.7C581.2 1535.4 594.3 1541.5 606.0 1548.1C617.3 1554.5 628.7 1560.6 638.9 1567.6C648.6 1574.1 658.1 1581.1 665.8 1588.5C672.8 1595.2 679.8 1602.0 683.8 1609.5C687.4 1616.1 689.4 1623.1 689.8 1630.4C690.1 1638.1 688.1 1646.6 685.3 1654.3C682.3 1662.6 677.5 1670.5 671.8 1678.3C665.4 1687.0 656.9 1695.6 647.9 1703.7C638.1 1712.6 626.6 1721.1 615.0 1729.1C602.8 1737.6 589.5 1746.1 576.1 1753.1C562.6 1760.1 548.5 1765.8 534.2 1771.0C519.6 1776.3 504.2 1781.8 489.3 1784.5C475.2 1787.1 461.1 1788.3 447.4 1787.5C434.1 1786.7 421.2 1784.1 408.5 1780.0C395.3 1775.8 381.6 1769.6 369.6 1762.1C357.7 1754.6 346.7 1745.1 336.7 1735.1C326.7 1725.2 317.1 1713.9 309.8 1702.2C302.7 1690.9 297.2 1678.8 293.3 1666.3C289.4 1653.8 287.2 1640.2 286.4 1627.4C285.7 1615.2 286.8 1603.4 288.2 1591.5C289.6 1579.5 292.0 1567.5 294.8 1555.6C297.7 1543.6 302.0 1531.4 305.3 1519.7C308.4 1508.5 311.5 1497.8 314.3 1486.8C317.0 1475.8 320.1 1464.6 321.7 1453.9C323.2 1443.7 324.2 1434.9 323.8 1423.9C323.3 1410.4 320.6 1392.9 317.2 1378.9C314.2 1366.1 309.7 1354.9 305.3 1343.0C300.8 1331.0 294.5 1319.4 290.3 1307.1C286.0 1294.5 282.1 1281.3 279.8 1268.2C277.6 1255.3 276.4 1242.5 276.9 1229.3C277.3 1215.6 279.4 1201.2 282.8 1187.4C286.3 1173.3 291.4 1158.9 297.8 1145.5C304.3 1132.0 312.7 1118.7 321.7 1106.6C330.7 1094.7 340.7 1083.7 351.7 1073.7C362.6 1063.7 374.7 1054.2 387.6 1046.8C400.6 1039.3 415.0 1033.6 429.5 1028.8C444.0 1024.1 459.3 1020.6 474.3 1018.3C489.2 1016.1 504.3 1015.1 519.2 1015.4Z" fill="#929bc9" fill-rule="evenodd"/>
<text transform="translate(1349.6 92.0) rotate(0.0)" font-size="118" fill="#000" text-anchor="start" textLength="619" lengthAdjust="spacingAndGlyphs" font-weight="normal">Consumidores</text>
<text transform="translate(1379.0 2844.0) rotate(0.0)" font-size="120" fill="#000" text-anchor="start" textLength="489" lengthAdjust="spacingAndGlyphs" font-weight="normal">Empleados</text>
<text transform="translate(49.0 1256.0) rotate(-44.0)" font-size="112" fill="#000" text-anchor="start" textLength="531" lengthAdjust="spacingAndGlyphs" font-weight="normal">Proveedores</text>
<text transform="translate(2704.0 959.0) rotate(44.7)" font-size="112" fill="#000" text-anchor="start" textLength="612" lengthAdjust="spacingAndGlyphs" font-weight="normal">Comunidades</text>
<text transform="translate(779.0 560.0) rotate(0.0)" font-size="87" fill="#fff" text-anchor="start" textLength="320" lengthAdjust="spacingAndGlyphs" font-weight="normal">Asociados</text>
<text transform="translate(2034.0 701.0) rotate(0.0)" font-size="84" fill="#fff" text-anchor="start" textLength="218" lengthAdjust="spacingAndGlyphs" font-weight="normal">Marca</text>
<text transform="translate(717.0 1920.0) rotate(0.0)" font-size="84" fill="#fff" text-anchor="start" textLength="280" lengthAdjust="spacingAndGlyphs" font-weight="normal">Procesos</text>
<text transform="translate(1459.0 1397.0) rotate(0.0)" font-size="84" fill="#fff" text-anchor="start" textLength="294" lengthAdjust="spacingAndGlyphs" font-weight="normal">Recursos</text>
<text transform="translate(2290.0 1972.0) rotate(0.0)" font-size="84" fill="#fff" text-anchor="start" font-weight="normal">?</text>
<text transform="translate(1361.0 1483.0) rotate(45.0)" font-size="55" fill="#0b7d4d" text-anchor="start" textLength="185" lengthAdjust="spacingAndGlyphs" font-weight="normal">Captura</text>
<text transform="translate(1331.0 1547.0) rotate(45.0)" font-size="55" fill="#0b7d4d" text-anchor="start" textLength="181" lengthAdjust="spacingAndGlyphs" font-weight="normal">de valor</text>
<text transform="translate(1690.0 1643.0) rotate(-43.0)" font-size="55" fill="#be1e2d" text-anchor="start" textLength="173" lengthAdjust="spacingAndGlyphs" font-weight="normal">Entrega</text>
<text transform="translate(1746.0 1683.0) rotate(-45.0)" font-size="55" fill="#be1e2d" text-anchor="start" textLength="178" lengthAdjust="spacingAndGlyphs" font-weight="normal">de valor</text>
</svg></body></html>
